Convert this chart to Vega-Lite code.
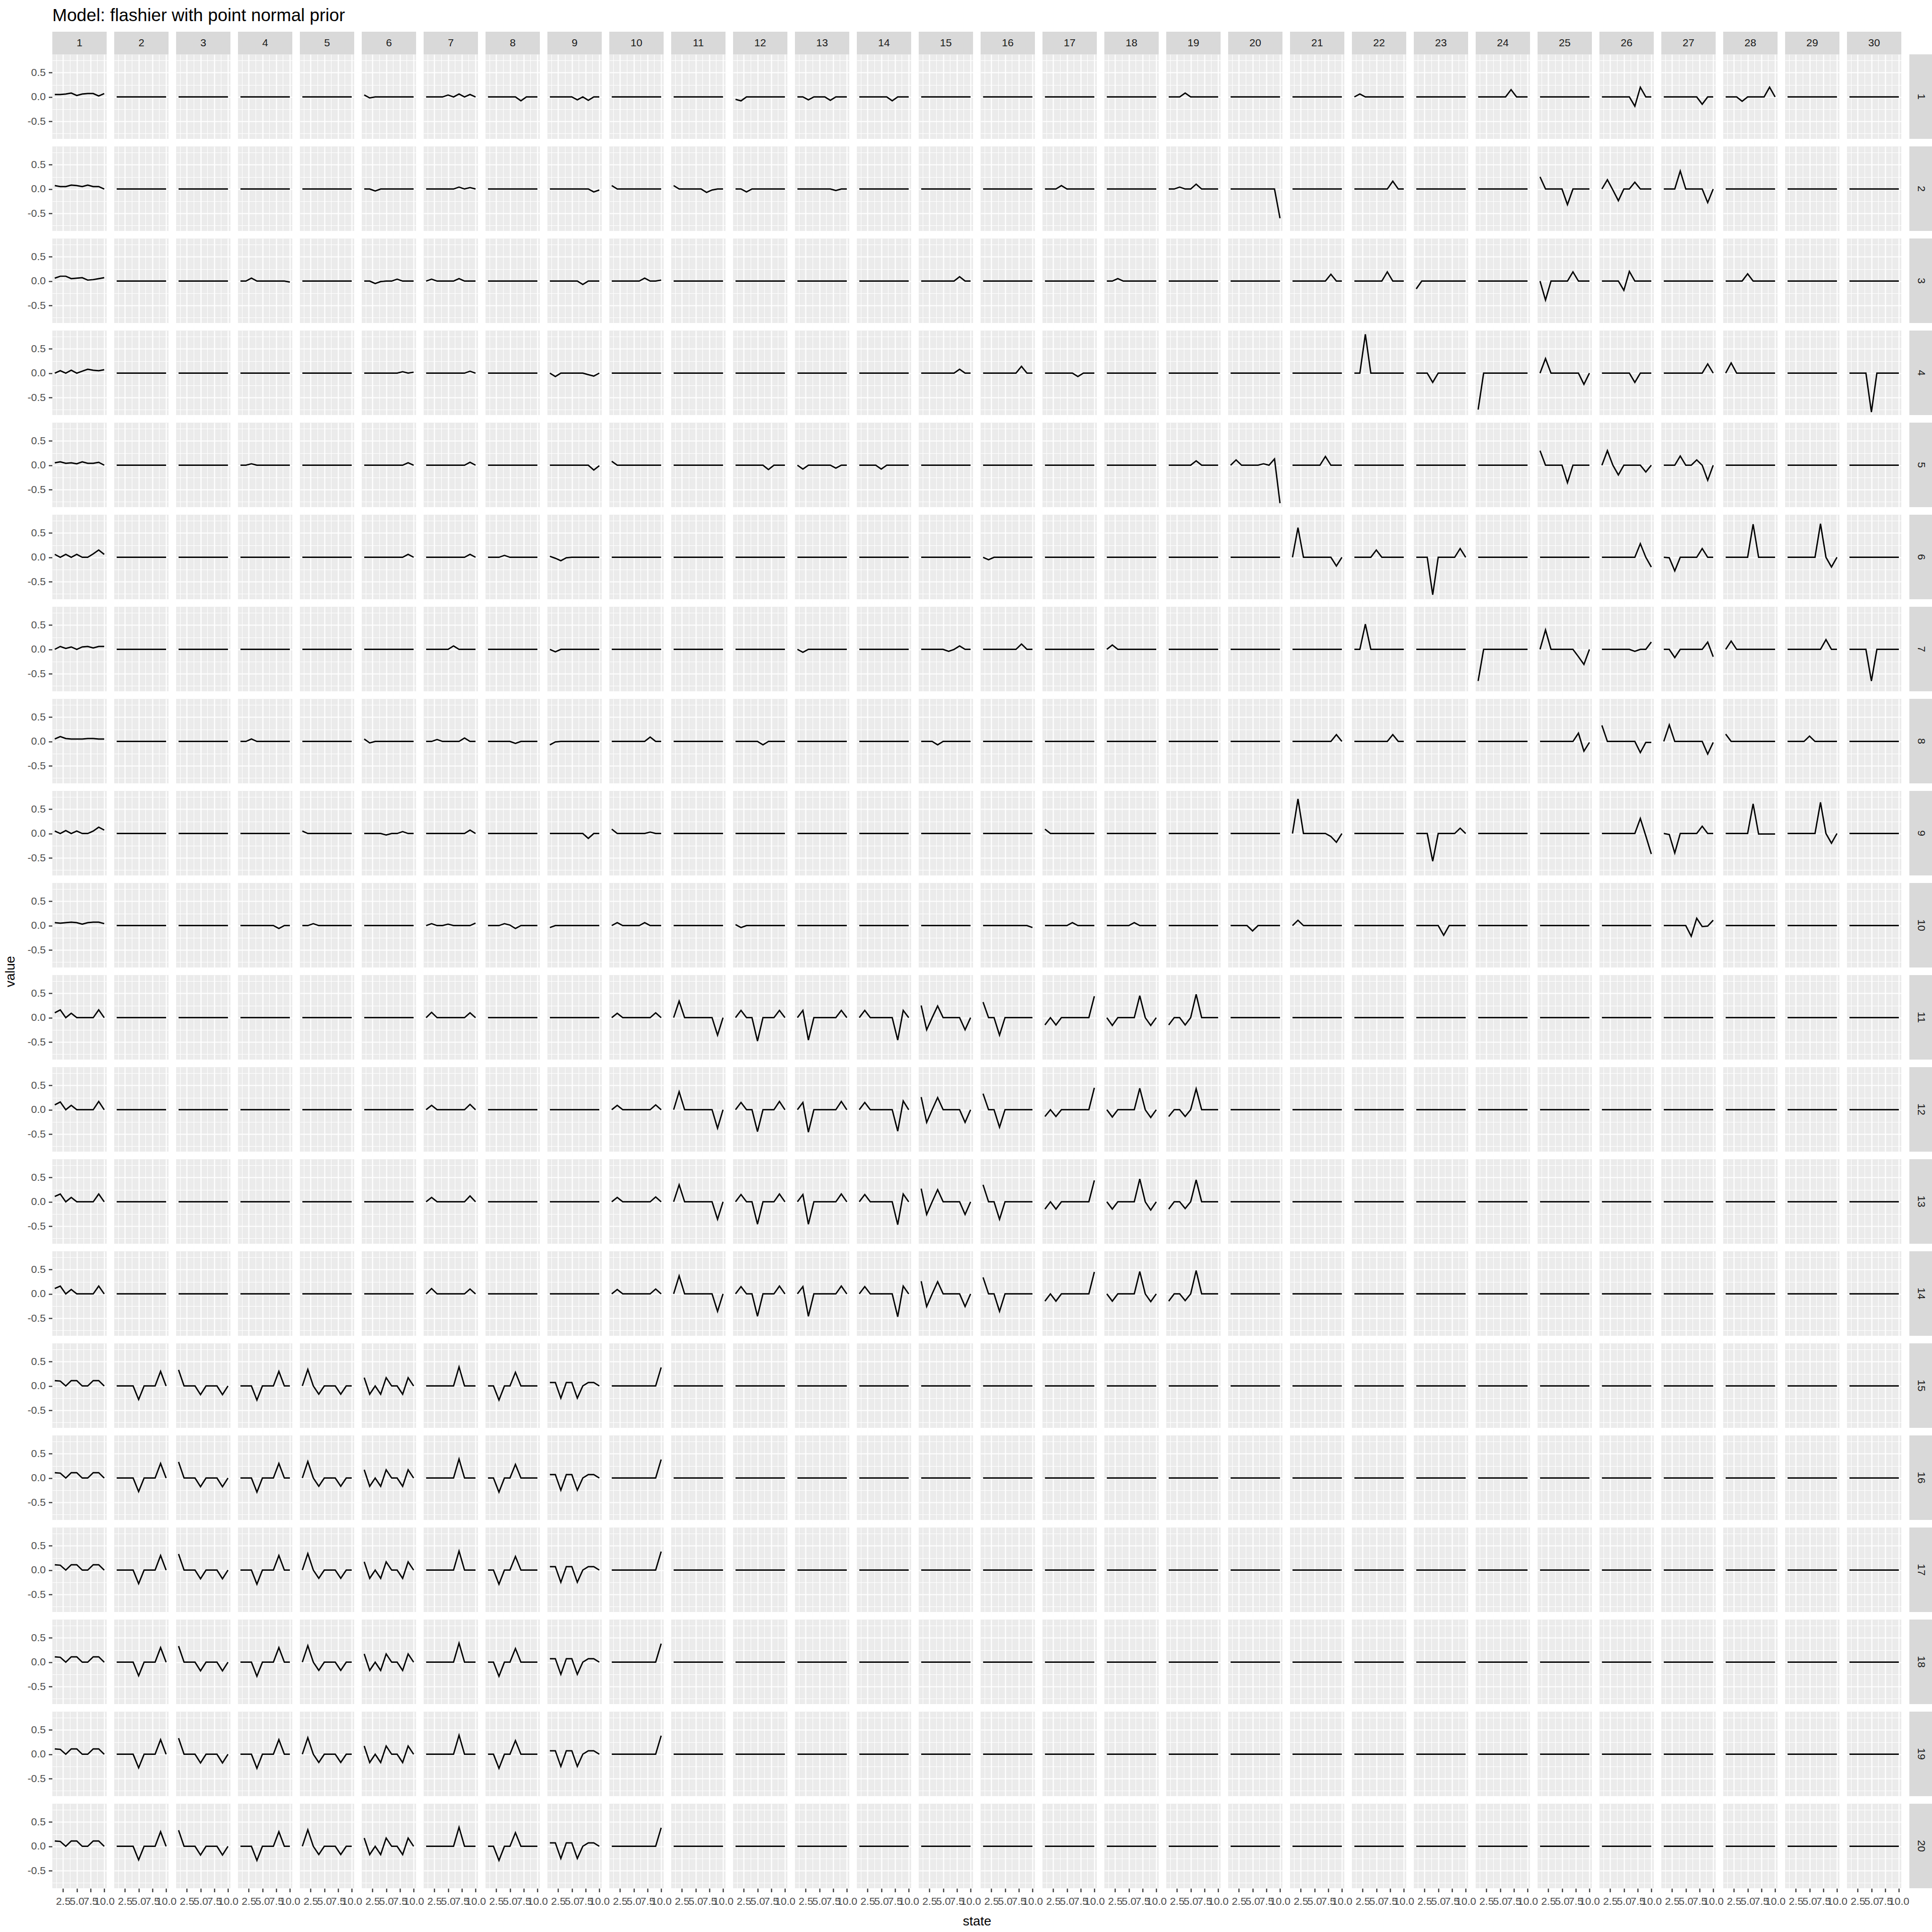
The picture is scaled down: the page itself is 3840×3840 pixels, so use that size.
{
"$schema":"https://vega.github.io/schema/vega-lite/v6.json",
"background":"#FFFFFF",
"padding":{"left":7,"top":14,"right":15,"bottom":10},
"title":{"text":"Model: flashier with point normal prior","anchor":"start","frame":"group","dx":84,"offset":14,"fontSize":35,"fontWeight":"normal","font":"Liberation Sans","color":"#000000"},
"config":{"view":{"stroke":null},"font":"Liberation Sans"},
"spacing":20,
"hconcat":[
{"width":1,"height":3736,"view":{"fill":"transparent","stroke":null},
 "data":{"values":[{"t":"value"}]},
 "mark":{"type":"text","angle":270,"fontSize":26,"font":"Liberation Sans","color":"#000000","baseline":"middle","align":"center"},
 "encoding":{"text":{"field":"t","type":"nominal"}}},
{"spacing":0,"vconcat":[
{"data":{"values":[{"c":1},{"c":2},{"c":3},{"c":4},{"c":5},{"c":6},{"c":7},{"c":8},{"c":9},{"c":10},{"c":11},{"c":12},{"c":13},{"c":14},{"c":15},{"c":16},{"c":17},{"c":18},{"c":19},{"c":20},{"c":21},{"c":22},{"c":23},{"c":24},{"c":25},{"c":26},{"c":27},{"c":28},{"c":29},{"c":30}]},
 "facet":{"column":{"field":"c","type":"ordinal","header":{"labels":false,"title":null}}},
 "spacing":15,"bounds":"flush",
 "spec":{"width":108,"height":45,"view":{"fill":"#D9D9D9","stroke":null},
  "mark":{"type":"text","fontSize":21,"color":"#1A1A1A","font":"Liberation Sans","baseline":"middle","align":"center"},
  "encoding":{"text":{"field":"c","type":"nominal"},
   "y":{"datum":0,"type":"quantitative","scale":{"domain":[-1,1],"nice":false},"axis":{"values":[0],"labelExpr":"'-0.5'","labelColor":"transparent","tickColor":"transparent","tickSize":7.5,"labelPadding":6,"labelFontSize":21,"labelFont":"Liberation Sans","grid":false,"domain":false,"title":null}}}}},
{"spacing":-31,"hconcat":[
{"data":{"values":[
{"r":1,"c":1,"s":1,"v":0.05},{"r":1,"c":1,"s":2,"v":0.05},{"r":1,"c":1,"s":3,"v":0.06},{"r":1,"c":1,"s":4,"v":0.08},{"r":1,"c":1,"s":5,"v":0.03},{"r":1,"c":1,"s":6,"v":0.06},{"r":1,"c":1,"s":7,"v":0.07},{"r":1,"c":1,"s":8,"v":0.07},{"r":1,"c":1,"s":9,"v":0.02},{"r":1,"c":1,"s":10,"v":0.07},
{"r":1,"c":6,"s":1,"v":0.04},{"r":1,"c":6,"s":2,"v":-0.02},{"r":1,"c":6,"s":3,"v":0},{"r":1,"c":6,"s":10,"v":0},
{"r":1,"c":7,"s":1,"v":0},{"r":1,"c":7,"s":4,"v":0},{"r":1,"c":7,"s":5,"v":0.04},{"r":1,"c":7,"s":6,"v":0},{"r":1,"c":7,"s":7,"v":0.06},{"r":1,"c":7,"s":8,"v":0},{"r":1,"c":7,"s":9,"v":0.05},{"r":1,"c":7,"s":10,"v":0},
{"r":1,"c":8,"s":1,"v":0},{"r":1,"c":8,"s":6,"v":0},{"r":1,"c":8,"s":7,"v":-0.08},{"r":1,"c":8,"s":8,"v":0},{"r":1,"c":8,"s":10,"v":0},
{"r":1,"c":9,"s":1,"v":0},{"r":1,"c":9,"s":5,"v":0},{"r":1,"c":9,"s":6,"v":-0.06},{"r":1,"c":9,"s":7,"v":0},{"r":1,"c":9,"s":8,"v":-0.07},{"r":1,"c":9,"s":9,"v":0},{"r":1,"c":9,"s":10,"v":0},
{"r":1,"c":12,"s":1,"v":-0.05},{"r":1,"c":12,"s":2,"v":-0.08},{"r":1,"c":12,"s":3,"v":0},{"r":1,"c":12,"s":10,"v":0},
{"r":1,"c":13,"s":1,"v":0},{"r":1,"c":13,"s":2,"v":0},{"r":1,"c":13,"s":3,"v":-0.06},{"r":1,"c":13,"s":4,"v":0},{"r":1,"c":13,"s":6,"v":0},{"r":1,"c":13,"s":7,"v":-0.07},{"r":1,"c":13,"s":8,"v":0},{"r":1,"c":13,"s":10,"v":0},
{"r":1,"c":14,"s":1,"v":0},{"r":1,"c":14,"s":6,"v":0},{"r":1,"c":14,"s":7,"v":-0.08},{"r":1,"c":14,"s":8,"v":0},{"r":1,"c":14,"s":10,"v":0},
{"r":1,"c":19,"s":1,"v":0},{"r":1,"c":19,"s":3,"v":0},{"r":1,"c":19,"s":4,"v":0.08},{"r":1,"c":19,"s":5,"v":0},{"r":1,"c":19,"s":10,"v":0},
{"r":1,"c":22,"s":1,"v":0},{"r":1,"c":22,"s":2,"v":0.06},{"r":1,"c":22,"s":3,"v":0},{"r":1,"c":22,"s":10,"v":0},
{"r":1,"c":24,"s":1,"v":0},{"r":1,"c":24,"s":6,"v":0},{"r":1,"c":24,"s":7,"v":0.15},{"r":1,"c":24,"s":8,"v":0},{"r":1,"c":24,"s":10,"v":0},
{"r":1,"c":26,"s":1,"v":0},{"r":1,"c":26,"s":6,"v":0},{"r":1,"c":26,"s":7,"v":-0.19},{"r":1,"c":26,"s":8,"v":0.2},{"r":1,"c":26,"s":9,"v":0},{"r":1,"c":26,"s":10,"v":0},
{"r":1,"c":27,"s":1,"v":0},{"r":1,"c":27,"s":7,"v":0},{"r":1,"c":27,"s":8,"v":-0.15},{"r":1,"c":27,"s":9,"v":0},{"r":1,"c":27,"s":10,"v":0},
{"r":1,"c":28,"s":1,"v":0},{"r":1,"c":28,"s":3,"v":0},{"r":1,"c":28,"s":4,"v":-0.09},{"r":1,"c":28,"s":5,"v":0},{"r":1,"c":28,"s":8,"v":0},{"r":1,"c":28,"s":9,"v":0.2},{"r":1,"c":28,"s":10,"v":0},
{"r":2,"c":1,"s":1,"v":0.07},{"r":2,"c":1,"s":2,"v":0.05},{"r":2,"c":1,"s":3,"v":0.05},{"r":2,"c":1,"s":4,"v":0.08},{"r":2,"c":1,"s":5,"v":0.07},{"r":2,"c":1,"s":6,"v":0.05},{"r":2,"c":1,"s":7,"v":0.08},{"r":2,"c":1,"s":8,"v":0.05},{"r":2,"c":1,"s":9,"v":0.05},{"r":2,"c":1,"s":10,"v":0},
{"r":2,"c":6,"s":1,"v":0},{"r":2,"c":6,"s":2,"v":0},{"r":2,"c":6,"s":3,"v":-0.04},{"r":2,"c":6,"s":4,"v":0},{"r":2,"c":6,"s":10,"v":0},
{"r":2,"c":7,"s":1,"v":0},{"r":2,"c":7,"s":6,"v":0},{"r":2,"c":7,"s":7,"v":0.04},{"r":2,"c":7,"s":8,"v":0},{"r":2,"c":7,"s":9,"v":0.03},{"r":2,"c":7,"s":10,"v":0},
{"r":2,"c":9,"s":1,"v":0},{"r":2,"c":9,"s":8,"v":0},{"r":2,"c":9,"s":9,"v":-0.06},{"r":2,"c":9,"s":10,"v":-0.02},
{"r":2,"c":10,"s":1,"v":0.07},{"r":2,"c":10,"s":2,"v":0},{"r":2,"c":10,"s":10,"v":0},
{"r":2,"c":11,"s":1,"v":0.07},{"r":2,"c":11,"s":2,"v":0},{"r":2,"c":11,"s":6,"v":0},{"r":2,"c":11,"s":7,"v":-0.07},{"r":2,"c":11,"s":8,"v":-0.02},{"r":2,"c":11,"s":9,"v":0},{"r":2,"c":11,"s":10,"v":0},
{"r":2,"c":12,"s":1,"v":0},{"r":2,"c":12,"s":2,"v":0},{"r":2,"c":12,"s":3,"v":-0.06},{"r":2,"c":12,"s":4,"v":0},{"r":2,"c":12,"s":10,"v":0},
{"r":2,"c":13,"s":1,"v":0},{"r":2,"c":13,"s":7,"v":0},{"r":2,"c":13,"s":8,"v":-0.03},{"r":2,"c":13,"s":9,"v":0},{"r":2,"c":13,"s":10,"v":0},
{"r":2,"c":17,"s":1,"v":0},{"r":2,"c":17,"s":3,"v":0},{"r":2,"c":17,"s":4,"v":0.07},{"r":2,"c":17,"s":5,"v":0},{"r":2,"c":17,"s":10,"v":0},
{"r":2,"c":19,"s":1,"v":0},{"r":2,"c":19,"s":2,"v":0},{"r":2,"c":19,"s":3,"v":0.04},{"r":2,"c":19,"s":4,"v":0},{"r":2,"c":19,"s":5,"v":0},{"r":2,"c":19,"s":6,"v":0.1},{"r":2,"c":19,"s":7,"v":0},{"r":2,"c":19,"s":10,"v":0},
{"r":2,"c":20,"s":1,"v":0},{"r":2,"c":20,"s":9,"v":0},{"r":2,"c":20,"s":10,"v":-0.6},
{"r":2,"c":22,"s":1,"v":0},{"r":2,"c":22,"s":7,"v":0},{"r":2,"c":22,"s":8,"v":0.16},{"r":2,"c":22,"s":9,"v":0},{"r":2,"c":22,"s":10,"v":0},
{"r":2,"c":25,"s":1,"v":0.25},{"r":2,"c":25,"s":2,"v":0},{"r":2,"c":25,"s":5,"v":0},{"r":2,"c":25,"s":6,"v":-0.32},{"r":2,"c":25,"s":7,"v":0},{"r":2,"c":25,"s":10,"v":0},
{"r":2,"c":26,"s":1,"v":0},{"r":2,"c":26,"s":2,"v":0.19},{"r":2,"c":26,"s":3,"v":-0.02},{"r":2,"c":26,"s":4,"v":-0.24},{"r":2,"c":26,"s":5,"v":0},{"r":2,"c":26,"s":6,"v":0},{"r":2,"c":26,"s":7,"v":0.14},{"r":2,"c":26,"s":8,"v":0},{"r":2,"c":26,"s":10,"v":0},
{"r":2,"c":27,"s":1,"v":0},{"r":2,"c":27,"s":3,"v":0},{"r":2,"c":27,"s":4,"v":0.37},{"r":2,"c":27,"s":5,"v":0},{"r":2,"c":27,"s":8,"v":0},{"r":2,"c":27,"s":9,"v":-0.28},{"r":2,"c":27,"s":10,"v":0},
{"r":3,"c":1,"s":1,"v":0.06},{"r":3,"c":1,"s":2,"v":0.1},{"r":3,"c":1,"s":3,"v":0.1},{"r":3,"c":1,"s":4,"v":0.05},{"r":3,"c":1,"s":5,"v":0.06},{"r":3,"c":1,"s":6,"v":0.07},{"r":3,"c":1,"s":7,"v":0.02},{"r":3,"c":1,"s":8,"v":0.03},{"r":3,"c":1,"s":9,"v":0.05},{"r":3,"c":1,"s":10,"v":0.07},
{"r":3,"c":4,"s":1,"v":0},{"r":3,"c":4,"s":2,"v":0},{"r":3,"c":4,"s":3,"v":0.06},{"r":3,"c":4,"s":4,"v":0},{"r":3,"c":4,"s":9,"v":0},{"r":3,"c":4,"s":10,"v":-0.02},
{"r":3,"c":6,"s":1,"v":0},{"r":3,"c":6,"s":2,"v":0},{"r":3,"c":6,"s":3,"v":-0.05},{"r":3,"c":6,"s":4,"v":-0.01},{"r":3,"c":6,"s":5,"v":0},{"r":3,"c":6,"s":6,"v":0},{"r":3,"c":6,"s":7,"v":0.04},{"r":3,"c":6,"s":8,"v":0},{"r":3,"c":6,"s":10,"v":0},
{"r":3,"c":7,"s":1,"v":0},{"r":3,"c":7,"s":2,"v":0.04},{"r":3,"c":7,"s":3,"v":0},{"r":3,"c":7,"s":6,"v":0},{"r":3,"c":7,"s":7,"v":0.05},{"r":3,"c":7,"s":8,"v":0},{"r":3,"c":7,"s":10,"v":0},
{"r":3,"c":9,"s":1,"v":0},{"r":3,"c":9,"s":6,"v":0},{"r":3,"c":9,"s":7,"v":-0.07},{"r":3,"c":9,"s":8,"v":0},{"r":3,"c":9,"s":10,"v":0},
{"r":3,"c":10,"s":1,"v":0},{"r":3,"c":10,"s":6,"v":0},{"r":3,"c":10,"s":7,"v":0.06},{"r":3,"c":10,"s":8,"v":0},{"r":3,"c":10,"s":9,"v":0},{"r":3,"c":10,"s":10,"v":0.02},
{"r":3,"c":15,"s":1,"v":0},{"r":3,"c":15,"s":7,"v":0},{"r":3,"c":15,"s":8,"v":0.09},{"r":3,"c":15,"s":9,"v":0},{"r":3,"c":15,"s":10,"v":0},
{"r":3,"c":18,"s":1,"v":0},{"r":3,"c":18,"s":2,"v":0},{"r":3,"c":18,"s":3,"v":0.05},{"r":3,"c":18,"s":4,"v":0},{"r":3,"c":18,"s":10,"v":0},
{"r":3,"c":21,"s":1,"v":0},{"r":3,"c":21,"s":7,"v":0},{"r":3,"c":21,"s":8,"v":0.14},{"r":3,"c":21,"s":9,"v":0},{"r":3,"c":21,"s":10,"v":0},
{"r":3,"c":22,"s":1,"v":0},{"r":3,"c":22,"s":6,"v":0},{"r":3,"c":22,"s":7,"v":0.19},{"r":3,"c":22,"s":8,"v":0},{"r":3,"c":22,"s":10,"v":0},
{"r":3,"c":23,"s":1,"v":-0.16},{"r":3,"c":23,"s":2,"v":0},{"r":3,"c":23,"s":10,"v":0},
{"r":3,"c":25,"s":1,"v":0},{"r":3,"c":25,"s":2,"v":-0.39},{"r":3,"c":25,"s":3,"v":0},{"r":3,"c":25,"s":6,"v":0},{"r":3,"c":25,"s":7,"v":0.19},{"r":3,"c":25,"s":8,"v":0},{"r":3,"c":25,"s":10,"v":0},
{"r":3,"c":26,"s":1,"v":0},{"r":3,"c":26,"s":4,"v":0},{"r":3,"c":26,"s":5,"v":-0.19},{"r":3,"c":26,"s":6,"v":0.2},{"r":3,"c":26,"s":7,"v":0},{"r":3,"c":26,"s":10,"v":0},
{"r":3,"c":28,"s":1,"v":0},{"r":3,"c":28,"s":4,"v":0},{"r":3,"c":28,"s":5,"v":0.15},{"r":3,"c":28,"s":6,"v":0},{"r":3,"c":28,"s":10,"v":0},
{"r":4,"c":1,"s":1,"v":0},{"r":4,"c":1,"s":2,"v":0.05},{"r":4,"c":1,"s":3,"v":0},{"r":4,"c":1,"s":4,"v":0.06},{"r":4,"c":1,"s":5,"v":0},{"r":4,"c":1,"s":6,"v":0.04},{"r":4,"c":1,"s":7,"v":0.08},{"r":4,"c":1,"s":8,"v":0.06},{"r":4,"c":1,"s":9,"v":0.05},{"r":4,"c":1,"s":10,"v":0.07},
{"r":4,"c":6,"s":1,"v":0},{"r":4,"c":6,"s":7,"v":0},{"r":4,"c":6,"s":8,"v":0.03},{"r":4,"c":6,"s":9,"v":0},{"r":4,"c":6,"s":10,"v":0.02},
{"r":4,"c":7,"s":1,"v":0},{"r":4,"c":7,"s":8,"v":0},{"r":4,"c":7,"s":9,"v":0.04},{"r":4,"c":7,"s":10,"v":0},
{"r":4,"c":9,"s":1,"v":0},{"r":4,"c":9,"s":2,"v":-0.07},{"r":4,"c":9,"s":3,"v":0},{"r":4,"c":9,"s":7,"v":0},{"r":4,"c":9,"s":8,"v":-0.03},{"r":4,"c":9,"s":9,"v":-0.06},{"r":4,"c":9,"s":10,"v":0},
{"r":4,"c":15,"s":1,"v":0},{"r":4,"c":15,"s":7,"v":0},{"r":4,"c":15,"s":8,"v":0.08},{"r":4,"c":15,"s":9,"v":0},{"r":4,"c":15,"s":10,"v":0},
{"r":4,"c":16,"s":1,"v":0},{"r":4,"c":16,"s":7,"v":0},{"r":4,"c":16,"s":8,"v":0.14},{"r":4,"c":16,"s":9,"v":0},{"r":4,"c":16,"s":10,"v":0},
{"r":4,"c":17,"s":1,"v":0},{"r":4,"c":17,"s":6,"v":0},{"r":4,"c":17,"s":7,"v":-0.07},{"r":4,"c":17,"s":8,"v":0},{"r":4,"c":17,"s":10,"v":0},
{"r":4,"c":22,"s":1,"v":0},{"r":4,"c":22,"s":2,"v":0},{"r":4,"c":22,"s":3,"v":0.8},{"r":4,"c":22,"s":4,"v":0},{"r":4,"c":22,"s":10,"v":0},
{"r":4,"c":23,"s":1,"v":0},{"r":4,"c":23,"s":3,"v":0},{"r":4,"c":23,"s":4,"v":-0.19},{"r":4,"c":23,"s":5,"v":0},{"r":4,"c":23,"s":10,"v":0},
{"r":4,"c":24,"s":1,"v":-0.75},{"r":4,"c":24,"s":2,"v":0},{"r":4,"c":24,"s":10,"v":0},
{"r":4,"c":25,"s":1,"v":0},{"r":4,"c":25,"s":2,"v":0.3},{"r":4,"c":25,"s":3,"v":0},{"r":4,"c":25,"s":8,"v":0},{"r":4,"c":25,"s":9,"v":-0.23},{"r":4,"c":25,"s":10,"v":0},
{"r":4,"c":26,"s":1,"v":0},{"r":4,"c":26,"s":6,"v":0},{"r":4,"c":26,"s":7,"v":-0.19},{"r":4,"c":26,"s":8,"v":0},{"r":4,"c":26,"s":10,"v":0},
{"r":4,"c":27,"s":1,"v":0},{"r":4,"c":27,"s":8,"v":0},{"r":4,"c":27,"s":9,"v":0.19},{"r":4,"c":27,"s":10,"v":0},
{"r":4,"c":28,"s":1,"v":0},{"r":4,"c":28,"s":2,"v":0.21},{"r":4,"c":28,"s":3,"v":0},{"r":4,"c":28,"s":10,"v":0},
{"r":4,"c":30,"s":1,"v":0},{"r":4,"c":30,"s":4,"v":0},{"r":4,"c":30,"s":5,"v":-0.8},{"r":4,"c":30,"s":6,"v":0},{"r":4,"c":30,"s":10,"v":0},
{"r":5,"c":1,"s":1,"v":0.05},{"r":5,"c":1,"s":2,"v":0.07},{"r":5,"c":1,"s":3,"v":0.04},{"r":5,"c":1,"s":4,"v":0.05},{"r":5,"c":1,"s":5,"v":0.03},{"r":5,"c":1,"s":6,"v":0.07},{"r":5,"c":1,"s":7,"v":0.04},{"r":5,"c":1,"s":8,"v":0.04},{"r":5,"c":1,"s":9,"v":0.06},{"r":5,"c":1,"s":10,"v":0},
{"r":5,"c":4,"s":1,"v":0},{"r":5,"c":4,"s":2,"v":0},{"r":5,"c":4,"s":3,"v":0.03},{"r":5,"c":4,"s":4,"v":0},{"r":5,"c":4,"s":10,"v":0},
{"r":5,"c":6,"s":1,"v":0},{"r":5,"c":6,"s":8,"v":0},{"r":5,"c":6,"s":9,"v":0.05},{"r":5,"c":6,"s":10,"v":0},
{"r":5,"c":7,"s":1,"v":0},{"r":5,"c":7,"s":8,"v":0},{"r":5,"c":7,"s":9,"v":0.06},{"r":5,"c":7,"s":10,"v":0},
{"r":5,"c":9,"s":1,"v":0},{"r":5,"c":9,"s":8,"v":0},{"r":5,"c":9,"s":9,"v":-0.1},{"r":5,"c":9,"s":10,"v":-0.01},
{"r":5,"c":10,"s":1,"v":0.08},{"r":5,"c":10,"s":2,"v":0},{"r":5,"c":10,"s":10,"v":0},
{"r":5,"c":12,"s":1,"v":0},{"r":5,"c":12,"s":6,"v":0},{"r":5,"c":12,"s":7,"v":-0.09},{"r":5,"c":12,"s":8,"v":0},{"r":5,"c":12,"s":10,"v":0},
{"r":5,"c":13,"s":1,"v":0},{"r":5,"c":13,"s":2,"v":-0.08},{"r":5,"c":13,"s":3,"v":0},{"r":5,"c":13,"s":7,"v":0},{"r":5,"c":13,"s":8,"v":-0.06},{"r":5,"c":13,"s":9,"v":0},{"r":5,"c":13,"s":10,"v":0},
{"r":5,"c":14,"s":1,"v":0},{"r":5,"c":14,"s":4,"v":0},{"r":5,"c":14,"s":5,"v":-0.08},{"r":5,"c":14,"s":6,"v":0},{"r":5,"c":14,"s":10,"v":0},
{"r":5,"c":19,"s":1,"v":0},{"r":5,"c":19,"s":5,"v":0},{"r":5,"c":19,"s":6,"v":0.09},{"r":5,"c":19,"s":7,"v":0},{"r":5,"c":19,"s":10,"v":0},
{"r":5,"c":20,"s":1,"v":0},{"r":5,"c":20,"s":2,"v":0.11},{"r":5,"c":20,"s":3,"v":0},{"r":5,"c":20,"s":6,"v":0},{"r":5,"c":20,"s":7,"v":0.03},{"r":5,"c":20,"s":8,"v":0},{"r":5,"c":20,"s":9,"v":0.13},{"r":5,"c":20,"s":10,"v":-0.78},
{"r":5,"c":21,"s":1,"v":0},{"r":5,"c":21,"s":6,"v":0},{"r":5,"c":21,"s":7,"v":0.18},{"r":5,"c":21,"s":8,"v":0},{"r":5,"c":21,"s":10,"v":0},
{"r":5,"c":25,"s":1,"v":0.3},{"r":5,"c":25,"s":2,"v":0},{"r":5,"c":25,"s":5,"v":0},{"r":5,"c":25,"s":6,"v":-0.36},{"r":5,"c":25,"s":7,"v":0},{"r":5,"c":25,"s":10,"v":0},
{"r":5,"c":26,"s":1,"v":0},{"r":5,"c":26,"s":2,"v":0.3},{"r":5,"c":26,"s":3,"v":0},{"r":5,"c":26,"s":4,"v":-0.2},{"r":5,"c":26,"s":5,"v":0},{"r":5,"c":26,"s":8,"v":0},{"r":5,"c":26,"s":9,"v":-0.14},{"r":5,"c":26,"s":10,"v":0},
{"r":5,"c":27,"s":1,"v":0},{"r":5,"c":27,"s":3,"v":0},{"r":5,"c":27,"s":4,"v":0.19},{"r":5,"c":27,"s":5,"v":0},{"r":5,"c":27,"s":6,"v":0},{"r":5,"c":27,"s":7,"v":0.11},{"r":5,"c":27,"s":8,"v":0},{"r":5,"c":27,"s":9,"v":-0.31},{"r":5,"c":27,"s":10,"v":0},
{"r":6,"c":1,"s":1,"v":0.06},{"r":6,"c":1,"s":2,"v":0},{"r":6,"c":1,"s":3,"v":0.06},{"r":6,"c":1,"s":4,"v":0},{"r":6,"c":1,"s":5,"v":0.06},{"r":6,"c":1,"s":6,"v":0},{"r":6,"c":1,"s":7,"v":0},{"r":6,"c":1,"s":8,"v":0.07},{"r":6,"c":1,"s":9,"v":0.15},{"r":6,"c":1,"s":10,"v":0.06},
{"r":6,"c":6,"s":1,"v":0},{"r":6,"c":6,"s":8,"v":0},{"r":6,"c":6,"s":9,"v":0.06},{"r":6,"c":6,"s":10,"v":0},
{"r":6,"c":7,"s":1,"v":0},{"r":6,"c":7,"s":8,"v":0},{"r":6,"c":7,"s":9,"v":0.06},{"r":6,"c":7,"s":10,"v":0},
{"r":6,"c":8,"s":1,"v":0},{"r":6,"c":8,"s":3,"v":0},{"r":6,"c":8,"s":4,"v":0.04},{"r":6,"c":8,"s":5,"v":0},{"r":6,"c":8,"s":10,"v":0},
{"r":6,"c":9,"s":1,"v":0.02},{"r":6,"c":9,"s":2,"v":-0.02},{"r":6,"c":9,"s":3,"v":-0.07},{"r":6,"c":9,"s":4,"v":-0.01},{"r":6,"c":9,"s":5,"v":0},{"r":6,"c":9,"s":10,"v":0},
{"r":6,"c":16,"s":1,"v":0},{"r":6,"c":16,"s":2,"v":-0.05},{"r":6,"c":16,"s":3,"v":0},{"r":6,"c":16,"s":10,"v":0},
{"r":6,"c":21,"s":1,"v":0},{"r":6,"c":21,"s":2,"v":0.61},{"r":6,"c":21,"s":3,"v":0},{"r":6,"c":21,"s":8,"v":0},{"r":6,"c":21,"s":9,"v":-0.18},{"r":6,"c":21,"s":10,"v":0},
{"r":6,"c":22,"s":1,"v":0},{"r":6,"c":22,"s":4,"v":0},{"r":6,"c":22,"s":5,"v":0.15},{"r":6,"c":22,"s":6,"v":0},{"r":6,"c":22,"s":10,"v":0},
{"r":6,"c":23,"s":1,"v":0},{"r":6,"c":23,"s":3,"v":0},{"r":6,"c":23,"s":4,"v":-0.77},{"r":6,"c":23,"s":5,"v":0},{"r":6,"c":23,"s":8,"v":0},{"r":6,"c":23,"s":9,"v":0.18},{"r":6,"c":23,"s":10,"v":0},
{"r":6,"c":26,"s":1,"v":0},{"r":6,"c":26,"s":7,"v":0},{"r":6,"c":26,"s":8,"v":0.28},{"r":6,"c":26,"s":9,"v":0},{"r":6,"c":26,"s":10,"v":-0.2},
{"r":6,"c":27,"s":1,"v":0},{"r":6,"c":27,"s":2,"v":-0.01},{"r":6,"c":27,"s":3,"v":-0.28},{"r":6,"c":27,"s":4,"v":0},{"r":6,"c":27,"s":7,"v":0},{"r":6,"c":27,"s":8,"v":0.18},{"r":6,"c":27,"s":9,"v":0},{"r":6,"c":27,"s":10,"v":0},
{"r":6,"c":28,"s":1,"v":0},{"r":6,"c":28,"s":5,"v":0},{"r":6,"c":28,"s":6,"v":0.68},{"r":6,"c":28,"s":7,"v":0},{"r":6,"c":28,"s":10,"v":0},
{"r":6,"c":29,"s":1,"v":0},{"r":6,"c":29,"s":6,"v":0},{"r":6,"c":29,"s":7,"v":0.69},{"r":6,"c":29,"s":8,"v":0},{"r":6,"c":29,"s":9,"v":-0.2},{"r":6,"c":29,"s":10,"v":0},
{"r":7,"c":1,"s":1,"v":0},{"r":7,"c":1,"s":2,"v":0.06},{"r":7,"c":1,"s":3,"v":0.02},{"r":7,"c":1,"s":4,"v":0.05},{"r":7,"c":1,"s":5,"v":0},{"r":7,"c":1,"s":6,"v":0.05},{"r":7,"c":1,"s":7,"v":0.06},{"r":7,"c":1,"s":8,"v":0.03},{"r":7,"c":1,"s":9,"v":0.06},{"r":7,"c":1,"s":10,"v":0.06},
{"r":7,"c":7,"s":1,"v":0},{"r":7,"c":7,"s":5,"v":0},{"r":7,"c":7,"s":6,"v":0.07},{"r":7,"c":7,"s":7,"v":0},{"r":7,"c":7,"s":10,"v":0},
{"r":7,"c":9,"s":1,"v":0},{"r":7,"c":9,"s":2,"v":-0.05},{"r":7,"c":9,"s":3,"v":0},{"r":7,"c":9,"s":10,"v":0},
{"r":7,"c":13,"s":1,"v":0},{"r":7,"c":13,"s":2,"v":-0.06},{"r":7,"c":13,"s":3,"v":0},{"r":7,"c":13,"s":10,"v":0},
{"r":7,"c":15,"s":1,"v":0},{"r":7,"c":15,"s":5,"v":0},{"r":7,"c":15,"s":6,"v":-0.04},{"r":7,"c":15,"s":7,"v":0},{"r":7,"c":15,"s":8,"v":0.07},{"r":7,"c":15,"s":9,"v":0},{"r":7,"c":15,"s":10,"v":0},
{"r":7,"c":16,"s":1,"v":0},{"r":7,"c":16,"s":7,"v":0},{"r":7,"c":16,"s":8,"v":0.11},{"r":7,"c":16,"s":9,"v":0},{"r":7,"c":16,"s":10,"v":0},
{"r":7,"c":18,"s":1,"v":0},{"r":7,"c":18,"s":2,"v":0.09},{"r":7,"c":18,"s":3,"v":0},{"r":7,"c":18,"s":10,"v":0},
{"r":7,"c":22,"s":1,"v":0},{"r":7,"c":22,"s":2,"v":0},{"r":7,"c":22,"s":3,"v":0.52},{"r":7,"c":22,"s":4,"v":0},{"r":7,"c":22,"s":10,"v":0},
{"r":7,"c":24,"s":1,"v":-0.65},{"r":7,"c":24,"s":2,"v":0},{"r":7,"c":24,"s":10,"v":0},
{"r":7,"c":25,"s":1,"v":0},{"r":7,"c":25,"s":2,"v":0.4},{"r":7,"c":25,"s":3,"v":0},{"r":7,"c":25,"s":7,"v":0},{"r":7,"c":25,"s":8,"v":-0.15},{"r":7,"c":25,"s":9,"v":-0.31},{"r":7,"c":25,"s":10,"v":0},
{"r":7,"c":26,"s":1,"v":0},{"r":7,"c":26,"s":6,"v":0},{"r":7,"c":26,"s":7,"v":-0.04},{"r":7,"c":26,"s":8,"v":0},{"r":7,"c":26,"s":9,"v":0},{"r":7,"c":26,"s":10,"v":0.15},
{"r":7,"c":27,"s":1,"v":0},{"r":7,"c":27,"s":2,"v":0},{"r":7,"c":27,"s":3,"v":-0.17},{"r":7,"c":27,"s":4,"v":0},{"r":7,"c":27,"s":8,"v":0},{"r":7,"c":27,"s":9,"v":0.15},{"r":7,"c":27,"s":10,"v":-0.15},
{"r":7,"c":28,"s":1,"v":0},{"r":7,"c":28,"s":2,"v":0.17},{"r":7,"c":28,"s":3,"v":0},{"r":7,"c":28,"s":10,"v":0},
{"r":7,"c":29,"s":1,"v":0},{"r":7,"c":29,"s":7,"v":0},{"r":7,"c":29,"s":8,"v":0.2},{"r":7,"c":29,"s":9,"v":0},{"r":7,"c":29,"s":10,"v":0},
{"r":7,"c":30,"s":1,"v":0},{"r":7,"c":30,"s":4,"v":0},{"r":7,"c":30,"s":5,"v":-0.65},{"r":7,"c":30,"s":6,"v":0},{"r":7,"c":30,"s":10,"v":0},
{"r":8,"c":1,"s":1,"v":0.05},{"r":8,"c":1,"s":2,"v":0.1},{"r":8,"c":1,"s":3,"v":0.06},{"r":8,"c":1,"s":4,"v":0.05},{"r":8,"c":1,"s":5,"v":0.05},{"r":8,"c":1,"s":6,"v":0.05},{"r":8,"c":1,"s":7,"v":0.06},{"r":8,"c":1,"s":8,"v":0.06},{"r":8,"c":1,"s":9,"v":0.05},{"r":8,"c":1,"s":10,"v":0.05},
{"r":8,"c":4,"s":1,"v":0},{"r":8,"c":4,"s":2,"v":0},{"r":8,"c":4,"s":3,"v":0.05},{"r":8,"c":4,"s":4,"v":0},{"r":8,"c":4,"s":10,"v":0},
{"r":8,"c":6,"s":1,"v":0.05},{"r":8,"c":6,"s":2,"v":-0.03},{"r":8,"c":6,"s":3,"v":0},{"r":8,"c":6,"s":10,"v":0},
{"r":8,"c":7,"s":1,"v":0},{"r":8,"c":7,"s":2,"v":0},{"r":8,"c":7,"s":3,"v":0.04},{"r":8,"c":7,"s":4,"v":0},{"r":8,"c":7,"s":7,"v":0},{"r":8,"c":7,"s":8,"v":0.07},{"r":8,"c":7,"s":9,"v":0},{"r":8,"c":7,"s":10,"v":0},
{"r":8,"c":8,"s":1,"v":0},{"r":8,"c":8,"s":5,"v":0},{"r":8,"c":8,"s":6,"v":-0.04},{"r":8,"c":8,"s":7,"v":0},{"r":8,"c":8,"s":10,"v":0},
{"r":8,"c":9,"s":1,"v":-0.07},{"r":8,"c":9,"s":2,"v":-0.01},{"r":8,"c":9,"s":3,"v":0},{"r":8,"c":9,"s":10,"v":0},
{"r":8,"c":10,"s":1,"v":0},{"r":8,"c":10,"s":7,"v":0},{"r":8,"c":10,"s":8,"v":0.09},{"r":8,"c":10,"s":9,"v":0},{"r":8,"c":10,"s":10,"v":0},
{"r":8,"c":12,"s":1,"v":0},{"r":8,"c":12,"s":5,"v":0},{"r":8,"c":12,"s":6,"v":-0.07},{"r":8,"c":12,"s":7,"v":0},{"r":8,"c":12,"s":10,"v":0},
{"r":8,"c":15,"s":1,"v":0},{"r":8,"c":15,"s":3,"v":0},{"r":8,"c":15,"s":4,"v":-0.07},{"r":8,"c":15,"s":5,"v":0},{"r":8,"c":15,"s":10,"v":0},
{"r":8,"c":21,"s":1,"v":0},{"r":8,"c":21,"s":8,"v":0},{"r":8,"c":21,"s":9,"v":0.14},{"r":8,"c":21,"s":10,"v":0},
{"r":8,"c":22,"s":1,"v":0},{"r":8,"c":22,"s":7,"v":0},{"r":8,"c":22,"s":8,"v":0.14},{"r":8,"c":22,"s":9,"v":0},{"r":8,"c":22,"s":10,"v":0},
{"r":8,"c":25,"s":1,"v":0},{"r":8,"c":25,"s":7,"v":0},{"r":8,"c":25,"s":8,"v":0.17},{"r":8,"c":25,"s":9,"v":-0.2},{"r":8,"c":25,"s":10,"v":-0.02},
{"r":8,"c":26,"s":1,"v":0.33},{"r":8,"c":26,"s":2,"v":0},{"r":8,"c":26,"s":7,"v":0},{"r":8,"c":26,"s":8,"v":-0.23},{"r":8,"c":26,"s":9,"v":-0.02},{"r":8,"c":26,"s":10,"v":-0.02},
{"r":8,"c":27,"s":1,"v":0},{"r":8,"c":27,"s":2,"v":0.34},{"r":8,"c":27,"s":3,"v":0},{"r":8,"c":27,"s":8,"v":0},{"r":8,"c":27,"s":9,"v":-0.26},{"r":8,"c":27,"s":10,"v":-0.02},
{"r":8,"c":28,"s":1,"v":0.15},{"r":8,"c":28,"s":2,"v":0},{"r":8,"c":28,"s":10,"v":0},
{"r":8,"c":29,"s":1,"v":0},{"r":8,"c":29,"s":4,"v":0},{"r":8,"c":29,"s":5,"v":0.11},{"r":8,"c":29,"s":6,"v":0},{"r":8,"c":29,"s":10,"v":0},
{"r":9,"c":1,"s":1,"v":0.05},{"r":9,"c":1,"s":2,"v":0},{"r":9,"c":1,"s":3,"v":0.06},{"r":9,"c":1,"s":4,"v":0},{"r":9,"c":1,"s":5,"v":0.05},{"r":9,"c":1,"s":6,"v":0},{"r":9,"c":1,"s":7,"v":0},{"r":9,"c":1,"s":8,"v":0.05},{"r":9,"c":1,"s":9,"v":0.13},{"r":9,"c":1,"s":10,"v":0.07},
{"r":9,"c":5,"s":1,"v":0.05},{"r":9,"c":5,"s":2,"v":0},{"r":9,"c":5,"s":10,"v":0},
{"r":9,"c":6,"s":1,"v":0},{"r":9,"c":6,"s":4,"v":0},{"r":9,"c":6,"s":5,"v":-0.03},{"r":9,"c":6,"s":6,"v":0},{"r":9,"c":6,"s":7,"v":0},{"r":9,"c":6,"s":8,"v":0.04},{"r":9,"c":6,"s":9,"v":0},{"r":9,"c":6,"s":10,"v":0},
{"r":9,"c":7,"s":1,"v":0},{"r":9,"c":7,"s":8,"v":0},{"r":9,"c":7,"s":9,"v":0.07},{"r":9,"c":7,"s":10,"v":0},
{"r":9,"c":9,"s":1,"v":0},{"r":9,"c":9,"s":7,"v":0},{"r":9,"c":9,"s":8,"v":-0.1},{"r":9,"c":9,"s":9,"v":0},{"r":9,"c":9,"s":10,"v":0},
{"r":9,"c":10,"s":1,"v":0.09},{"r":9,"c":10,"s":2,"v":0},{"r":9,"c":10,"s":7,"v":0},{"r":9,"c":10,"s":8,"v":0.03},{"r":9,"c":10,"s":9,"v":0},{"r":9,"c":10,"s":10,"v":0},
{"r":9,"c":17,"s":1,"v":0.09},{"r":9,"c":17,"s":2,"v":0},{"r":9,"c":17,"s":10,"v":0},
{"r":9,"c":21,"s":1,"v":0},{"r":9,"c":21,"s":2,"v":0.71},{"r":9,"c":21,"s":3,"v":0},{"r":9,"c":21,"s":7,"v":0},{"r":9,"c":21,"s":8,"v":-0.06},{"r":9,"c":21,"s":9,"v":-0.18},{"r":9,"c":21,"s":10,"v":0},
{"r":9,"c":23,"s":1,"v":0},{"r":9,"c":23,"s":3,"v":0},{"r":9,"c":23,"s":4,"v":-0.57},{"r":9,"c":23,"s":5,"v":0},{"r":9,"c":23,"s":8,"v":0},{"r":9,"c":23,"s":9,"v":0.11},{"r":9,"c":23,"s":10,"v":0},
{"r":9,"c":26,"s":1,"v":0},{"r":9,"c":26,"s":7,"v":0},{"r":9,"c":26,"s":8,"v":0.31},{"r":9,"c":26,"s":9,"v":-0.05},{"r":9,"c":26,"s":10,"v":-0.42},
{"r":9,"c":27,"s":1,"v":0},{"r":9,"c":27,"s":2,"v":-0.02},{"r":9,"c":27,"s":3,"v":-0.4},{"r":9,"c":27,"s":4,"v":0},{"r":9,"c":27,"s":7,"v":0},{"r":9,"c":27,"s":8,"v":0.15},{"r":9,"c":27,"s":9,"v":0},{"r":9,"c":27,"s":10,"v":0},
{"r":9,"c":28,"s":1,"v":0},{"r":9,"c":28,"s":5,"v":0},{"r":9,"c":28,"s":6,"v":0.61},{"r":9,"c":28,"s":7,"v":-0.01},{"r":9,"c":28,"s":10,"v":-0.01},
{"r":9,"c":29,"s":1,"v":0},{"r":9,"c":29,"s":6,"v":0},{"r":9,"c":29,"s":7,"v":0.64},{"r":9,"c":29,"s":8,"v":0},{"r":9,"c":29,"s":9,"v":-0.2},{"r":9,"c":29,"s":10,"v":0},
{"r":10,"c":1,"s":1,"v":0.06},{"r":10,"c":1,"s":2,"v":0.05},{"r":10,"c":1,"s":3,"v":0.06},{"r":10,"c":1,"s":4,"v":0.07},{"r":10,"c":1,"s":5,"v":0.06},{"r":10,"c":1,"s":6,"v":0.03},{"r":10,"c":1,"s":7,"v":0.06},{"r":10,"c":1,"s":8,"v":0.07},{"r":10,"c":1,"s":9,"v":0.07},{"r":10,"c":1,"s":10,"v":0.04},
{"r":10,"c":4,"s":1,"v":0},{"r":10,"c":4,"s":7,"v":0},{"r":10,"c":4,"s":8,"v":-0.06},{"r":10,"c":4,"s":9,"v":0},{"r":10,"c":4,"s":10,"v":0},
{"r":10,"c":5,"s":1,"v":0},{"r":10,"c":5,"s":2,"v":0},{"r":10,"c":5,"s":3,"v":0.04},{"r":10,"c":5,"s":4,"v":0},{"r":10,"c":5,"s":10,"v":0},
{"r":10,"c":7,"s":1,"v":0},{"r":10,"c":7,"s":2,"v":0.04},{"r":10,"c":7,"s":3,"v":0},{"r":10,"c":7,"s":4,"v":0},{"r":10,"c":7,"s":5,"v":0.03},{"r":10,"c":7,"s":6,"v":0},{"r":10,"c":7,"s":9,"v":0},{"r":10,"c":7,"s":10,"v":0.05},
{"r":10,"c":8,"s":1,"v":0},{"r":10,"c":8,"s":3,"v":0},{"r":10,"c":8,"s":4,"v":0.04},{"r":10,"c":8,"s":5,"v":0.01},{"r":10,"c":8,"s":6,"v":-0.06},{"r":10,"c":8,"s":7,"v":0},{"r":10,"c":8,"s":10,"v":0},
{"r":10,"c":9,"s":1,"v":-0.04},{"r":10,"c":9,"s":2,"v":0},{"r":10,"c":9,"s":10,"v":0},
{"r":10,"c":10,"s":1,"v":0},{"r":10,"c":10,"s":2,"v":0.06},{"r":10,"c":10,"s":3,"v":0},{"r":10,"c":10,"s":6,"v":0},{"r":10,"c":10,"s":7,"v":0.06},{"r":10,"c":10,"s":8,"v":0},{"r":10,"c":10,"s":10,"v":0},
{"r":10,"c":12,"s":1,"v":0.02},{"r":10,"c":12,"s":2,"v":-0.04},{"r":10,"c":12,"s":3,"v":0},{"r":10,"c":12,"s":10,"v":0},
{"r":10,"c":16,"s":1,"v":0},{"r":10,"c":16,"s":9,"v":0},{"r":10,"c":16,"s":10,"v":-0.04},
{"r":10,"c":17,"s":1,"v":0},{"r":10,"c":17,"s":5,"v":0},{"r":10,"c":17,"s":6,"v":0.06},{"r":10,"c":17,"s":7,"v":0},{"r":10,"c":17,"s":10,"v":0},
{"r":10,"c":18,"s":1,"v":0},{"r":10,"c":18,"s":5,"v":0},{"r":10,"c":18,"s":6,"v":0.06},{"r":10,"c":18,"s":7,"v":0},{"r":10,"c":18,"s":10,"v":0},
{"r":10,"c":20,"s":1,"v":0},{"r":10,"c":20,"s":4,"v":0},{"r":10,"c":20,"s":5,"v":-0.11},{"r":10,"c":20,"s":6,"v":0},{"r":10,"c":20,"s":10,"v":0},
{"r":10,"c":21,"s":1,"v":0},{"r":10,"c":21,"s":2,"v":0.11},{"r":10,"c":21,"s":3,"v":0},{"r":10,"c":21,"s":10,"v":0},
{"r":10,"c":23,"s":1,"v":0},{"r":10,"c":23,"s":5,"v":0},{"r":10,"c":23,"s":6,"v":-0.2},{"r":10,"c":23,"s":7,"v":0},{"r":10,"c":23,"s":10,"v":0},
{"r":10,"c":27,"s":1,"v":0},{"r":10,"c":27,"s":5,"v":0},{"r":10,"c":27,"s":6,"v":-0.22},{"r":10,"c":27,"s":7,"v":0.15},{"r":10,"c":27,"s":8,"v":-0.02},{"r":10,"c":27,"s":9,"v":-0.01},{"r":10,"c":27,"s":10,"v":0.11},
{"r":11,"c":1,"s":1,"v":0.1},{"r":11,"c":1,"s":2,"v":0.16},{"r":11,"c":1,"s":3,"v":0},{"r":11,"c":1,"s":4,"v":0.09},{"r":11,"c":1,"s":5,"v":0},{"r":11,"c":1,"s":8,"v":0},{"r":11,"c":1,"s":9,"v":0.16},{"r":11,"c":1,"s":10,"v":0},
{"r":11,"c":7,"s":1,"v":0},{"r":11,"c":7,"s":2,"v":0.11},{"r":11,"c":7,"s":3,"v":0},{"r":11,"c":7,"s":8,"v":0},{"r":11,"c":7,"s":9,"v":0.1},{"r":11,"c":7,"s":10,"v":0},
{"r":11,"c":10,"s":1,"v":0},{"r":11,"c":10,"s":2,"v":0.09},{"r":11,"c":10,"s":3,"v":0},{"r":11,"c":10,"s":8,"v":0},{"r":11,"c":10,"s":9,"v":0.1},{"r":11,"c":10,"s":10,"v":0},
{"r":11,"c":11,"s":1,"v":0},{"r":11,"c":11,"s":2,"v":0.34},{"r":11,"c":11,"s":3,"v":0},{"r":11,"c":11,"s":8,"v":0},{"r":11,"c":11,"s":9,"v":-0.36},{"r":11,"c":11,"s":10,"v":0},
{"r":11,"c":12,"s":1,"v":0},{"r":11,"c":12,"s":2,"v":0.15},{"r":11,"c":12,"s":3,"v":0},{"r":11,"c":12,"s":4,"v":0},{"r":11,"c":12,"s":5,"v":-0.48},{"r":11,"c":12,"s":6,"v":0},{"r":11,"c":12,"s":8,"v":0},{"r":11,"c":12,"s":9,"v":0.15},{"r":11,"c":12,"s":10,"v":0},
{"r":11,"c":13,"s":1,"v":0},{"r":11,"c":13,"s":2,"v":0.15},{"r":11,"c":13,"s":3,"v":-0.46},{"r":11,"c":13,"s":4,"v":0},{"r":11,"c":13,"s":8,"v":0},{"r":11,"c":13,"s":9,"v":0.15},{"r":11,"c":13,"s":10,"v":0},
{"r":11,"c":14,"s":1,"v":0},{"r":11,"c":14,"s":2,"v":0.15},{"r":11,"c":14,"s":3,"v":0},{"r":11,"c":14,"s":7,"v":0},{"r":11,"c":14,"s":8,"v":-0.46},{"r":11,"c":14,"s":9,"v":0.15},{"r":11,"c":14,"s":10,"v":0},
{"r":11,"c":15,"s":1,"v":0.25},{"r":11,"c":15,"s":2,"v":-0.25},{"r":11,"c":15,"s":3,"v":0},{"r":11,"c":15,"s":4,"v":0.24},{"r":11,"c":15,"s":5,"v":0},{"r":11,"c":15,"s":8,"v":0},{"r":11,"c":15,"s":9,"v":-0.25},{"r":11,"c":15,"s":10,"v":0},
{"r":11,"c":16,"s":1,"v":0.32},{"r":11,"c":16,"s":2,"v":0},{"r":11,"c":16,"s":3,"v":0},{"r":11,"c":16,"s":4,"v":-0.36},{"r":11,"c":16,"s":5,"v":0},{"r":11,"c":16,"s":10,"v":0},
{"r":11,"c":17,"s":1,"v":-0.15},{"r":11,"c":17,"s":2,"v":0},{"r":11,"c":17,"s":3,"v":-0.15},{"r":11,"c":17,"s":4,"v":0},{"r":11,"c":17,"s":9,"v":0},{"r":11,"c":17,"s":10,"v":0.44},
{"r":11,"c":18,"s":1,"v":0},{"r":11,"c":18,"s":2,"v":-0.16},{"r":11,"c":18,"s":3,"v":0},{"r":11,"c":18,"s":6,"v":0},{"r":11,"c":18,"s":7,"v":0.45},{"r":11,"c":18,"s":8,"v":0},{"r":11,"c":18,"s":9,"v":-0.16},{"r":11,"c":18,"s":10,"v":0},
{"r":11,"c":19,"s":1,"v":-0.15},{"r":11,"c":19,"s":2,"v":0},{"r":11,"c":19,"s":3,"v":0},{"r":11,"c":19,"s":4,"v":-0.15},{"r":11,"c":19,"s":5,"v":0},{"r":11,"c":19,"s":6,"v":0.48},{"r":11,"c":19,"s":7,"v":0},{"r":11,"c":19,"s":10,"v":0},
{"r":12,"c":1,"s":1,"v":0.1},{"r":12,"c":1,"s":2,"v":0.16},{"r":12,"c":1,"s":3,"v":0},{"r":12,"c":1,"s":4,"v":0.09},{"r":12,"c":1,"s":5,"v":0},{"r":12,"c":1,"s":8,"v":0},{"r":12,"c":1,"s":9,"v":0.17},{"r":12,"c":1,"s":10,"v":0},
{"r":12,"c":7,"s":1,"v":0},{"r":12,"c":7,"s":2,"v":0.09},{"r":12,"c":7,"s":3,"v":0},{"r":12,"c":7,"s":8,"v":0},{"r":12,"c":7,"s":9,"v":0.11},{"r":12,"c":7,"s":10,"v":0},
{"r":12,"c":10,"s":1,"v":0},{"r":12,"c":10,"s":2,"v":0.09},{"r":12,"c":10,"s":3,"v":0},{"r":12,"c":10,"s":8,"v":0},{"r":12,"c":10,"s":9,"v":0.1},{"r":12,"c":10,"s":10,"v":0},
{"r":12,"c":11,"s":1,"v":0},{"r":12,"c":11,"s":2,"v":0.37},{"r":12,"c":11,"s":3,"v":0},{"r":12,"c":11,"s":8,"v":0},{"r":12,"c":11,"s":9,"v":-0.38},{"r":12,"c":11,"s":10,"v":0},
{"r":12,"c":12,"s":1,"v":0},{"r":12,"c":12,"s":2,"v":0.15},{"r":12,"c":12,"s":3,"v":0},{"r":12,"c":12,"s":4,"v":0},{"r":12,"c":12,"s":5,"v":-0.45},{"r":12,"c":12,"s":6,"v":0},{"r":12,"c":12,"s":8,"v":0},{"r":12,"c":12,"s":9,"v":0.17},{"r":12,"c":12,"s":10,"v":0},
{"r":12,"c":13,"s":1,"v":0},{"r":12,"c":13,"s":2,"v":0.15},{"r":12,"c":13,"s":3,"v":-0.46},{"r":12,"c":13,"s":4,"v":0},{"r":12,"c":13,"s":8,"v":0},{"r":12,"c":13,"s":9,"v":0.17},{"r":12,"c":13,"s":10,"v":0},
{"r":12,"c":14,"s":1,"v":0},{"r":12,"c":14,"s":2,"v":0.15},{"r":12,"c":14,"s":3,"v":0},{"r":12,"c":14,"s":7,"v":0},{"r":12,"c":14,"s":8,"v":-0.44},{"r":12,"c":14,"s":9,"v":0.18},{"r":12,"c":14,"s":10,"v":0},
{"r":12,"c":15,"s":1,"v":0.26},{"r":12,"c":15,"s":2,"v":-0.26},{"r":12,"c":15,"s":3,"v":0},{"r":12,"c":15,"s":4,"v":0.25},{"r":12,"c":15,"s":5,"v":0},{"r":12,"c":15,"s":8,"v":0},{"r":12,"c":15,"s":9,"v":-0.26},{"r":12,"c":15,"s":10,"v":0},
{"r":12,"c":16,"s":1,"v":0.33},{"r":12,"c":16,"s":2,"v":0},{"r":12,"c":16,"s":3,"v":0},{"r":12,"c":16,"s":4,"v":-0.36},{"r":12,"c":16,"s":5,"v":0},{"r":12,"c":16,"s":10,"v":0},
{"r":12,"c":17,"s":1,"v":-0.14},{"r":12,"c":17,"s":2,"v":0},{"r":12,"c":17,"s":3,"v":-0.14},{"r":12,"c":17,"s":4,"v":0},{"r":12,"c":17,"s":9,"v":0},{"r":12,"c":17,"s":10,"v":0.45},
{"r":12,"c":18,"s":1,"v":0},{"r":12,"c":18,"s":2,"v":-0.15},{"r":12,"c":18,"s":3,"v":0},{"r":12,"c":18,"s":6,"v":0},{"r":12,"c":18,"s":7,"v":0.44},{"r":12,"c":18,"s":8,"v":0},{"r":12,"c":18,"s":9,"v":-0.16},{"r":12,"c":18,"s":10,"v":0},
{"r":12,"c":19,"s":1,"v":-0.14},{"r":12,"c":19,"s":2,"v":0},{"r":12,"c":19,"s":3,"v":0},{"r":12,"c":19,"s":4,"v":-0.14},{"r":12,"c":19,"s":5,"v":0},{"r":12,"c":19,"s":6,"v":0.43},{"r":12,"c":19,"s":7,"v":0},{"r":12,"c":19,"s":10,"v":0},
{"r":13,"c":1,"s":1,"v":0.11},{"r":13,"c":1,"s":2,"v":0.16},{"r":13,"c":1,"s":3,"v":0},{"r":13,"c":1,"s":4,"v":0.09},{"r":13,"c":1,"s":5,"v":0},{"r":13,"c":1,"s":8,"v":0},{"r":13,"c":1,"s":9,"v":0.16},{"r":13,"c":1,"s":10,"v":0},
{"r":13,"c":7,"s":1,"v":0},{"r":13,"c":7,"s":2,"v":0.09},{"r":13,"c":7,"s":3,"v":0},{"r":13,"c":7,"s":8,"v":0},{"r":13,"c":7,"s":9,"v":0.12},{"r":13,"c":7,"s":10,"v":0},
{"r":13,"c":10,"s":1,"v":0},{"r":13,"c":10,"s":2,"v":0.09},{"r":13,"c":10,"s":3,"v":0},{"r":13,"c":10,"s":8,"v":0},{"r":13,"c":10,"s":9,"v":0.1},{"r":13,"c":10,"s":10,"v":0},
{"r":13,"c":11,"s":1,"v":0},{"r":13,"c":11,"s":2,"v":0.35},{"r":13,"c":11,"s":3,"v":0},{"r":13,"c":11,"s":8,"v":0},{"r":13,"c":11,"s":9,"v":-0.36},{"r":13,"c":11,"s":10,"v":0},
{"r":13,"c":12,"s":1,"v":0},{"r":13,"c":12,"s":2,"v":0.15},{"r":13,"c":12,"s":3,"v":0},{"r":13,"c":12,"s":4,"v":0},{"r":13,"c":12,"s":5,"v":-0.46},{"r":13,"c":12,"s":6,"v":0},{"r":13,"c":12,"s":8,"v":0},{"r":13,"c":12,"s":9,"v":0.16},{"r":13,"c":12,"s":10,"v":0},
{"r":13,"c":13,"s":1,"v":0},{"r":13,"c":13,"s":2,"v":0.15},{"r":13,"c":13,"s":3,"v":-0.46},{"r":13,"c":13,"s":4,"v":0},{"r":13,"c":13,"s":8,"v":0},{"r":13,"c":13,"s":9,"v":0.16},{"r":13,"c":13,"s":10,"v":0},
{"r":13,"c":14,"s":1,"v":0},{"r":13,"c":14,"s":2,"v":0.15},{"r":13,"c":14,"s":3,"v":0},{"r":13,"c":14,"s":7,"v":0},{"r":13,"c":14,"s":8,"v":-0.47},{"r":13,"c":14,"s":9,"v":0.16},{"r":13,"c":14,"s":10,"v":0},
{"r":13,"c":15,"s":1,"v":0.27},{"r":13,"c":15,"s":2,"v":-0.26},{"r":13,"c":15,"s":3,"v":0},{"r":13,"c":15,"s":4,"v":0.25},{"r":13,"c":15,"s":5,"v":0},{"r":13,"c":15,"s":8,"v":0},{"r":13,"c":15,"s":9,"v":-0.26},{"r":13,"c":15,"s":10,"v":0},
{"r":13,"c":16,"s":1,"v":0.35},{"r":13,"c":16,"s":2,"v":0},{"r":13,"c":16,"s":3,"v":0},{"r":13,"c":16,"s":4,"v":-0.36},{"r":13,"c":16,"s":5,"v":0},{"r":13,"c":16,"s":10,"v":0},
{"r":13,"c":17,"s":1,"v":-0.15},{"r":13,"c":17,"s":2,"v":0},{"r":13,"c":17,"s":3,"v":-0.15},{"r":13,"c":17,"s":4,"v":0},{"r":13,"c":17,"s":9,"v":0},{"r":13,"c":17,"s":10,"v":0.44},
{"r":13,"c":18,"s":1,"v":0},{"r":13,"c":18,"s":2,"v":-0.15},{"r":13,"c":18,"s":3,"v":0},{"r":13,"c":18,"s":6,"v":0},{"r":13,"c":18,"s":7,"v":0.47},{"r":13,"c":18,"s":8,"v":0},{"r":13,"c":18,"s":9,"v":-0.17},{"r":13,"c":18,"s":10,"v":0},
{"r":13,"c":19,"s":1,"v":-0.15},{"r":13,"c":19,"s":2,"v":0},{"r":13,"c":19,"s":3,"v":0},{"r":13,"c":19,"s":4,"v":-0.14},{"r":13,"c":19,"s":5,"v":0},{"r":13,"c":19,"s":6,"v":0.45},{"r":13,"c":19,"s":7,"v":0},{"r":13,"c":19,"s":10,"v":0},
{"r":14,"c":1,"s":1,"v":0.11},{"r":14,"c":1,"s":2,"v":0.16},{"r":14,"c":1,"s":3,"v":0},{"r":14,"c":1,"s":4,"v":0.09},{"r":14,"c":1,"s":5,"v":0},{"r":14,"c":1,"s":8,"v":0},{"r":14,"c":1,"s":9,"v":0.16},{"r":14,"c":1,"s":10,"v":0},
{"r":14,"c":7,"s":1,"v":0},{"r":14,"c":7,"s":2,"v":0.11},{"r":14,"c":7,"s":3,"v":0},{"r":14,"c":7,"s":8,"v":0},{"r":14,"c":7,"s":9,"v":0.1},{"r":14,"c":7,"s":10,"v":0},
{"r":14,"c":10,"s":1,"v":0},{"r":14,"c":10,"s":2,"v":0.09},{"r":14,"c":10,"s":3,"v":0},{"r":14,"c":10,"s":8,"v":0},{"r":14,"c":10,"s":9,"v":0.1},{"r":14,"c":10,"s":10,"v":0},
{"r":14,"c":11,"s":1,"v":0},{"r":14,"c":11,"s":2,"v":0.37},{"r":14,"c":11,"s":3,"v":0},{"r":14,"c":11,"s":8,"v":0},{"r":14,"c":11,"s":9,"v":-0.36},{"r":14,"c":11,"s":10,"v":0},
{"r":14,"c":12,"s":1,"v":0},{"r":14,"c":12,"s":2,"v":0.15},{"r":14,"c":12,"s":3,"v":0},{"r":14,"c":12,"s":4,"v":0},{"r":14,"c":12,"s":5,"v":-0.46},{"r":14,"c":12,"s":6,"v":0},{"r":14,"c":12,"s":8,"v":0},{"r":14,"c":12,"s":9,"v":0.16},{"r":14,"c":12,"s":10,"v":0},
{"r":14,"c":13,"s":1,"v":0},{"r":14,"c":13,"s":2,"v":0.15},{"r":14,"c":13,"s":3,"v":-0.46},{"r":14,"c":13,"s":4,"v":0},{"r":14,"c":13,"s":8,"v":0},{"r":14,"c":13,"s":9,"v":0.16},{"r":14,"c":13,"s":10,"v":0},
{"r":14,"c":14,"s":1,"v":0},{"r":14,"c":14,"s":2,"v":0.15},{"r":14,"c":14,"s":3,"v":0},{"r":14,"c":14,"s":7,"v":0},{"r":14,"c":14,"s":8,"v":-0.47},{"r":14,"c":14,"s":9,"v":0.16},{"r":14,"c":14,"s":10,"v":0},
{"r":14,"c":15,"s":1,"v":0.26},{"r":14,"c":15,"s":2,"v":-0.26},{"r":14,"c":15,"s":3,"v":0},{"r":14,"c":15,"s":4,"v":0.25},{"r":14,"c":15,"s":5,"v":0},{"r":14,"c":15,"s":8,"v":0},{"r":14,"c":15,"s":9,"v":-0.26},{"r":14,"c":15,"s":10,"v":0},
{"r":14,"c":16,"s":1,"v":0.34},{"r":14,"c":16,"s":2,"v":0},{"r":14,"c":16,"s":3,"v":0},{"r":14,"c":16,"s":4,"v":-0.36},{"r":14,"c":16,"s":5,"v":0},{"r":14,"c":16,"s":10,"v":0},
{"r":14,"c":17,"s":1,"v":-0.15},{"r":14,"c":17,"s":2,"v":0},{"r":14,"c":17,"s":3,"v":-0.15},{"r":14,"c":17,"s":4,"v":0},{"r":14,"c":17,"s":9,"v":0},{"r":14,"c":17,"s":10,"v":0.45},
{"r":14,"c":18,"s":1,"v":0},{"r":14,"c":18,"s":2,"v":-0.15},{"r":14,"c":18,"s":3,"v":0},{"r":14,"c":18,"s":6,"v":0},{"r":14,"c":18,"s":7,"v":0.46},{"r":14,"c":18,"s":8,"v":0},{"r":14,"c":18,"s":9,"v":-0.16},{"r":14,"c":18,"s":10,"v":0},
{"r":14,"c":19,"s":1,"v":-0.15},{"r":14,"c":19,"s":2,"v":0},{"r":14,"c":19,"s":3,"v":0},{"r":14,"c":19,"s":4,"v":-0.14},{"r":14,"c":19,"s":5,"v":0},{"r":14,"c":19,"s":6,"v":0.48},{"r":14,"c":19,"s":7,"v":0},{"r":14,"c":19,"s":10,"v":0},
{"r":15,"c":1,"s":1,"v":0.11},{"r":15,"c":1,"s":2,"v":0.1},{"r":15,"c":1,"s":3,"v":0},{"r":15,"c":1,"s":4,"v":0.11},{"r":15,"c":1,"s":5,"v":0.11},{"r":15,"c":1,"s":6,"v":0},{"r":15,"c":1,"s":7,"v":0},{"r":15,"c":1,"s":8,"v":0.11},{"r":15,"c":1,"s":9,"v":0.11},{"r":15,"c":1,"s":10,"v":0},
{"r":15,"c":2,"s":1,"v":0},{"r":15,"c":2,"s":4,"v":0},{"r":15,"c":2,"s":5,"v":-0.28},{"r":15,"c":2,"s":6,"v":0},{"r":15,"c":2,"s":8,"v":0},{"r":15,"c":2,"s":9,"v":0.3},{"r":15,"c":2,"s":10,"v":0},
{"r":15,"c":3,"s":1,"v":0.33},{"r":15,"c":3,"s":2,"v":0},{"r":15,"c":3,"s":4,"v":0},{"r":15,"c":3,"s":5,"v":-0.18},{"r":15,"c":3,"s":6,"v":0},{"r":15,"c":3,"s":8,"v":0},{"r":15,"c":3,"s":9,"v":-0.18},{"r":15,"c":3,"s":10,"v":0},
{"r":15,"c":4,"s":1,"v":0},{"r":15,"c":4,"s":3,"v":0},{"r":15,"c":4,"s":4,"v":-0.29},{"r":15,"c":4,"s":5,"v":0},{"r":15,"c":4,"s":7,"v":0},{"r":15,"c":4,"s":8,"v":0.3},{"r":15,"c":4,"s":9,"v":0},{"r":15,"c":4,"s":10,"v":0},
{"r":15,"c":5,"s":1,"v":0},{"r":15,"c":5,"s":2,"v":0.34},{"r":15,"c":5,"s":3,"v":0},{"r":15,"c":5,"s":4,"v":-0.17},{"r":15,"c":5,"s":5,"v":0},{"r":15,"c":5,"s":7,"v":0},{"r":15,"c":5,"s":8,"v":-0.17},{"r":15,"c":5,"s":9,"v":0},{"r":15,"c":5,"s":10,"v":0},
{"r":15,"c":6,"s":1,"v":0.17},{"r":15,"c":6,"s":2,"v":-0.17},{"r":15,"c":6,"s":3,"v":0},{"r":15,"c":6,"s":4,"v":-0.17},{"r":15,"c":6,"s":5,"v":0.17},{"r":15,"c":6,"s":6,"v":0},{"r":15,"c":6,"s":7,"v":0},{"r":15,"c":6,"s":8,"v":-0.17},{"r":15,"c":6,"s":9,"v":0.17},{"r":15,"c":6,"s":10,"v":0},
{"r":15,"c":7,"s":1,"v":0},{"r":15,"c":7,"s":6,"v":0},{"r":15,"c":7,"s":7,"v":0.39},{"r":15,"c":7,"s":8,"v":0},{"r":15,"c":7,"s":10,"v":0},
{"r":15,"c":8,"s":1,"v":0},{"r":15,"c":8,"s":2,"v":0},{"r":15,"c":8,"s":3,"v":-0.29},{"r":15,"c":8,"s":4,"v":0},{"r":15,"c":8,"s":5,"v":0},{"r":15,"c":8,"s":6,"v":0.28},{"r":15,"c":8,"s":7,"v":0},{"r":15,"c":8,"s":10,"v":0},
{"r":15,"c":9,"s":1,"v":0.07},{"r":15,"c":9,"s":2,"v":0.07},{"r":15,"c":9,"s":3,"v":-0.25},{"r":15,"c":9,"s":4,"v":0.07},{"r":15,"c":9,"s":5,"v":0.07},{"r":15,"c":9,"s":6,"v":-0.25},{"r":15,"c":9,"s":7,"v":0},{"r":15,"c":9,"s":8,"v":0.07},{"r":15,"c":9,"s":9,"v":0.07},{"r":15,"c":9,"s":10,"v":0},
{"r":15,"c":10,"s":1,"v":0},{"r":15,"c":10,"s":9,"v":0},{"r":15,"c":10,"s":10,"v":0.38},
{"r":16,"c":1,"s":1,"v":0.11},{"r":16,"c":1,"s":2,"v":0.1},{"r":16,"c":1,"s":3,"v":0},{"r":16,"c":1,"s":4,"v":0.11},{"r":16,"c":1,"s":5,"v":0.11},{"r":16,"c":1,"s":6,"v":0},{"r":16,"c":1,"s":7,"v":0},{"r":16,"c":1,"s":8,"v":0.11},{"r":16,"c":1,"s":9,"v":0.11},{"r":16,"c":1,"s":10,"v":0},
{"r":16,"c":2,"s":1,"v":0},{"r":16,"c":2,"s":4,"v":0},{"r":16,"c":2,"s":5,"v":-0.28},{"r":16,"c":2,"s":6,"v":0},{"r":16,"c":2,"s":8,"v":0},{"r":16,"c":2,"s":9,"v":0.3},{"r":16,"c":2,"s":10,"v":0},
{"r":16,"c":3,"s":1,"v":0.33},{"r":16,"c":3,"s":2,"v":0},{"r":16,"c":3,"s":4,"v":0},{"r":16,"c":3,"s":5,"v":-0.18},{"r":16,"c":3,"s":6,"v":0},{"r":16,"c":3,"s":8,"v":0},{"r":16,"c":3,"s":9,"v":-0.18},{"r":16,"c":3,"s":10,"v":0},
{"r":16,"c":4,"s":1,"v":0},{"r":16,"c":4,"s":3,"v":0},{"r":16,"c":4,"s":4,"v":-0.29},{"r":16,"c":4,"s":5,"v":0},{"r":16,"c":4,"s":7,"v":0},{"r":16,"c":4,"s":8,"v":0.3},{"r":16,"c":4,"s":9,"v":0},{"r":16,"c":4,"s":10,"v":0},
{"r":16,"c":5,"s":1,"v":0},{"r":16,"c":5,"s":2,"v":0.34},{"r":16,"c":5,"s":3,"v":0},{"r":16,"c":5,"s":4,"v":-0.17},{"r":16,"c":5,"s":5,"v":0},{"r":16,"c":5,"s":7,"v":0},{"r":16,"c":5,"s":8,"v":-0.17},{"r":16,"c":5,"s":9,"v":0},{"r":16,"c":5,"s":10,"v":0},
{"r":16,"c":6,"s":1,"v":0.17},{"r":16,"c":6,"s":2,"v":-0.17},{"r":16,"c":6,"s":3,"v":0},{"r":16,"c":6,"s":4,"v":-0.17},{"r":16,"c":6,"s":5,"v":0.17},{"r":16,"c":6,"s":6,"v":0},{"r":16,"c":6,"s":7,"v":0},{"r":16,"c":6,"s":8,"v":-0.17},{"r":16,"c":6,"s":9,"v":0.17},{"r":16,"c":6,"s":10,"v":0},
{"r":16,"c":7,"s":1,"v":0},{"r":16,"c":7,"s":6,"v":0},{"r":16,"c":7,"s":7,"v":0.39},{"r":16,"c":7,"s":8,"v":0},{"r":16,"c":7,"s":10,"v":0},
{"r":16,"c":8,"s":1,"v":0},{"r":16,"c":8,"s":2,"v":0},{"r":16,"c":8,"s":3,"v":-0.29},{"r":16,"c":8,"s":4,"v":0},{"r":16,"c":8,"s":5,"v":0},{"r":16,"c":8,"s":6,"v":0.28},{"r":16,"c":8,"s":7,"v":0},{"r":16,"c":8,"s":10,"v":0},
{"r":16,"c":9,"s":1,"v":0.07},{"r":16,"c":9,"s":2,"v":0.07},{"r":16,"c":9,"s":3,"v":-0.25},{"r":16,"c":9,"s":4,"v":0.07},{"r":16,"c":9,"s":5,"v":0.07},{"r":16,"c":9,"s":6,"v":-0.25},{"r":16,"c":9,"s":7,"v":0},{"r":16,"c":9,"s":8,"v":0.07},{"r":16,"c":9,"s":9,"v":0.07},{"r":16,"c":9,"s":10,"v":0},
{"r":16,"c":10,"s":1,"v":0},{"r":16,"c":10,"s":9,"v":0},{"r":16,"c":10,"s":10,"v":0.38},
{"r":17,"c":1,"s":1,"v":0.11},{"r":17,"c":1,"s":2,"v":0.1},{"r":17,"c":1,"s":3,"v":0},{"r":17,"c":1,"s":4,"v":0.11},{"r":17,"c":1,"s":5,"v":0.11},{"r":17,"c":1,"s":6,"v":0},{"r":17,"c":1,"s":7,"v":0},{"r":17,"c":1,"s":8,"v":0.11},{"r":17,"c":1,"s":9,"v":0.11},{"r":17,"c":1,"s":10,"v":0},
{"r":17,"c":2,"s":1,"v":0},{"r":17,"c":2,"s":4,"v":0},{"r":17,"c":2,"s":5,"v":-0.28},{"r":17,"c":2,"s":6,"v":0},{"r":17,"c":2,"s":8,"v":0},{"r":17,"c":2,"s":9,"v":0.3},{"r":17,"c":2,"s":10,"v":0},
{"r":17,"c":3,"s":1,"v":0.33},{"r":17,"c":3,"s":2,"v":0},{"r":17,"c":3,"s":4,"v":0},{"r":17,"c":3,"s":5,"v":-0.18},{"r":17,"c":3,"s":6,"v":0},{"r":17,"c":3,"s":8,"v":0},{"r":17,"c":3,"s":9,"v":-0.18},{"r":17,"c":3,"s":10,"v":0},
{"r":17,"c":4,"s":1,"v":0},{"r":17,"c":4,"s":3,"v":0},{"r":17,"c":4,"s":4,"v":-0.29},{"r":17,"c":4,"s":5,"v":0},{"r":17,"c":4,"s":7,"v":0},{"r":17,"c":4,"s":8,"v":0.3},{"r":17,"c":4,"s":9,"v":0},{"r":17,"c":4,"s":10,"v":0},
{"r":17,"c":5,"s":1,"v":0},{"r":17,"c":5,"s":2,"v":0.34},{"r":17,"c":5,"s":3,"v":0},{"r":17,"c":5,"s":4,"v":-0.17},{"r":17,"c":5,"s":5,"v":0},{"r":17,"c":5,"s":7,"v":0},{"r":17,"c":5,"s":8,"v":-0.17},{"r":17,"c":5,"s":9,"v":0},{"r":17,"c":5,"s":10,"v":0},
{"r":17,"c":6,"s":1,"v":0.17},{"r":17,"c":6,"s":2,"v":-0.17},{"r":17,"c":6,"s":3,"v":0},{"r":17,"c":6,"s":4,"v":-0.17},{"r":17,"c":6,"s":5,"v":0.17},{"r":17,"c":6,"s":6,"v":0},{"r":17,"c":6,"s":7,"v":0},{"r":17,"c":6,"s":8,"v":-0.17},{"r":17,"c":6,"s":9,"v":0.17},{"r":17,"c":6,"s":10,"v":0},
{"r":17,"c":7,"s":1,"v":0},{"r":17,"c":7,"s":6,"v":0},{"r":17,"c":7,"s":7,"v":0.39},{"r":17,"c":7,"s":8,"v":0},{"r":17,"c":7,"s":10,"v":0},
{"r":17,"c":8,"s":1,"v":0},{"r":17,"c":8,"s":2,"v":0},{"r":17,"c":8,"s":3,"v":-0.29},{"r":17,"c":8,"s":4,"v":0},{"r":17,"c":8,"s":5,"v":0},{"r":17,"c":8,"s":6,"v":0.28},{"r":17,"c":8,"s":7,"v":0},{"r":17,"c":8,"s":10,"v":0},
{"r":17,"c":9,"s":1,"v":0.07},{"r":17,"c":9,"s":2,"v":0.07},{"r":17,"c":9,"s":3,"v":-0.25},{"r":17,"c":9,"s":4,"v":0.07},{"r":17,"c":9,"s":5,"v":0.07},{"r":17,"c":9,"s":6,"v":-0.25},{"r":17,"c":9,"s":7,"v":0},{"r":17,"c":9,"s":8,"v":0.07},{"r":17,"c":9,"s":9,"v":0.07},{"r":17,"c":9,"s":10,"v":0},
{"r":17,"c":10,"s":1,"v":0},{"r":17,"c":10,"s":9,"v":0},{"r":17,"c":10,"s":10,"v":0.38},
{"r":18,"c":1,"s":1,"v":0.11},{"r":18,"c":1,"s":2,"v":0.1},{"r":18,"c":1,"s":3,"v":0},{"r":18,"c":1,"s":4,"v":0.11},{"r":18,"c":1,"s":5,"v":0.11},{"r":18,"c":1,"s":6,"v":0},{"r":18,"c":1,"s":7,"v":0},{"r":18,"c":1,"s":8,"v":0.11},{"r":18,"c":1,"s":9,"v":0.11},{"r":18,"c":1,"s":10,"v":0},
{"r":18,"c":2,"s":1,"v":0},{"r":18,"c":2,"s":4,"v":0},{"r":18,"c":2,"s":5,"v":-0.28},{"r":18,"c":2,"s":6,"v":0},{"r":18,"c":2,"s":8,"v":0},{"r":18,"c":2,"s":9,"v":0.3},{"r":18,"c":2,"s":10,"v":0},
{"r":18,"c":3,"s":1,"v":0.33},{"r":18,"c":3,"s":2,"v":0},{"r":18,"c":3,"s":4,"v":0},{"r":18,"c":3,"s":5,"v":-0.18},{"r":18,"c":3,"s":6,"v":0},{"r":18,"c":3,"s":8,"v":0},{"r":18,"c":3,"s":9,"v":-0.18},{"r":18,"c":3,"s":10,"v":0},
{"r":18,"c":4,"s":1,"v":0},{"r":18,"c":4,"s":3,"v":0},{"r":18,"c":4,"s":4,"v":-0.29},{"r":18,"c":4,"s":5,"v":0},{"r":18,"c":4,"s":7,"v":0},{"r":18,"c":4,"s":8,"v":0.3},{"r":18,"c":4,"s":9,"v":0},{"r":18,"c":4,"s":10,"v":0},
{"r":18,"c":5,"s":1,"v":0},{"r":18,"c":5,"s":2,"v":0.34},{"r":18,"c":5,"s":3,"v":0},{"r":18,"c":5,"s":4,"v":-0.17},{"r":18,"c":5,"s":5,"v":0},{"r":18,"c":5,"s":7,"v":0},{"r":18,"c":5,"s":8,"v":-0.17},{"r":18,"c":5,"s":9,"v":0},{"r":18,"c":5,"s":10,"v":0},
{"r":18,"c":6,"s":1,"v":0.17},{"r":18,"c":6,"s":2,"v":-0.17},{"r":18,"c":6,"s":3,"v":0},{"r":18,"c":6,"s":4,"v":-0.17},{"r":18,"c":6,"s":5,"v":0.17},{"r":18,"c":6,"s":6,"v":0},{"r":18,"c":6,"s":7,"v":0},{"r":18,"c":6,"s":8,"v":-0.17},{"r":18,"c":6,"s":9,"v":0.17},{"r":18,"c":6,"s":10,"v":0},
{"r":18,"c":7,"s":1,"v":0},{"r":18,"c":7,"s":6,"v":0},{"r":18,"c":7,"s":7,"v":0.39},{"r":18,"c":7,"s":8,"v":0},{"r":18,"c":7,"s":10,"v":0},
{"r":18,"c":8,"s":1,"v":0},{"r":18,"c":8,"s":2,"v":0},{"r":18,"c":8,"s":3,"v":-0.29},{"r":18,"c":8,"s":4,"v":0},{"r":18,"c":8,"s":5,"v":0},{"r":18,"c":8,"s":6,"v":0.28},{"r":18,"c":8,"s":7,"v":0},{"r":18,"c":8,"s":10,"v":0},
{"r":18,"c":9,"s":1,"v":0.07},{"r":18,"c":9,"s":2,"v":0.07},{"r":18,"c":9,"s":3,"v":-0.25},{"r":18,"c":9,"s":4,"v":0.07},{"r":18,"c":9,"s":5,"v":0.07},{"r":18,"c":9,"s":6,"v":-0.25},{"r":18,"c":9,"s":7,"v":0},{"r":18,"c":9,"s":8,"v":0.07},{"r":18,"c":9,"s":9,"v":0.07},{"r":18,"c":9,"s":10,"v":0},
{"r":18,"c":10,"s":1,"v":0},{"r":18,"c":10,"s":9,"v":0},{"r":18,"c":10,"s":10,"v":0.38},
{"r":19,"c":1,"s":1,"v":0.11},{"r":19,"c":1,"s":2,"v":0.1},{"r":19,"c":1,"s":3,"v":0},{"r":19,"c":1,"s":4,"v":0.11},{"r":19,"c":1,"s":5,"v":0.11},{"r":19,"c":1,"s":6,"v":0},{"r":19,"c":1,"s":7,"v":0},{"r":19,"c":1,"s":8,"v":0.11},{"r":19,"c":1,"s":9,"v":0.11},{"r":19,"c":1,"s":10,"v":0},
{"r":19,"c":2,"s":1,"v":0},{"r":19,"c":2,"s":4,"v":0},{"r":19,"c":2,"s":5,"v":-0.28},{"r":19,"c":2,"s":6,"v":0},{"r":19,"c":2,"s":8,"v":0},{"r":19,"c":2,"s":9,"v":0.3},{"r":19,"c":2,"s":10,"v":0},
{"r":19,"c":3,"s":1,"v":0.33},{"r":19,"c":3,"s":2,"v":0},{"r":19,"c":3,"s":4,"v":0},{"r":19,"c":3,"s":5,"v":-0.18},{"r":19,"c":3,"s":6,"v":0},{"r":19,"c":3,"s":8,"v":0},{"r":19,"c":3,"s":9,"v":-0.18},{"r":19,"c":3,"s":10,"v":0},
{"r":19,"c":4,"s":1,"v":0},{"r":19,"c":4,"s":3,"v":0},{"r":19,"c":4,"s":4,"v":-0.29},{"r":19,"c":4,"s":5,"v":0},{"r":19,"c":4,"s":7,"v":0},{"r":19,"c":4,"s":8,"v":0.3},{"r":19,"c":4,"s":9,"v":0},{"r":19,"c":4,"s":10,"v":0},
{"r":19,"c":5,"s":1,"v":0},{"r":19,"c":5,"s":2,"v":0.34},{"r":19,"c":5,"s":3,"v":0},{"r":19,"c":5,"s":4,"v":-0.17},{"r":19,"c":5,"s":5,"v":0},{"r":19,"c":5,"s":7,"v":0},{"r":19,"c":5,"s":8,"v":-0.17},{"r":19,"c":5,"s":9,"v":0},{"r":19,"c":5,"s":10,"v":0},
{"r":19,"c":6,"s":1,"v":0.17},{"r":19,"c":6,"s":2,"v":-0.17},{"r":19,"c":6,"s":3,"v":0},{"r":19,"c":6,"s":4,"v":-0.17},{"r":19,"c":6,"s":5,"v":0.17},{"r":19,"c":6,"s":6,"v":0},{"r":19,"c":6,"s":7,"v":0},{"r":19,"c":6,"s":8,"v":-0.17},{"r":19,"c":6,"s":9,"v":0.17},{"r":19,"c":6,"s":10,"v":0},
{"r":19,"c":7,"s":1,"v":0},{"r":19,"c":7,"s":6,"v":0},{"r":19,"c":7,"s":7,"v":0.39},{"r":19,"c":7,"s":8,"v":0},{"r":19,"c":7,"s":10,"v":0},
{"r":19,"c":8,"s":1,"v":0},{"r":19,"c":8,"s":2,"v":0},{"r":19,"c":8,"s":3,"v":-0.29},{"r":19,"c":8,"s":4,"v":0},{"r":19,"c":8,"s":5,"v":0},{"r":19,"c":8,"s":6,"v":0.28},{"r":19,"c":8,"s":7,"v":0},{"r":19,"c":8,"s":10,"v":0},
{"r":19,"c":9,"s":1,"v":0.07},{"r":19,"c":9,"s":2,"v":0.07},{"r":19,"c":9,"s":3,"v":-0.25},{"r":19,"c":9,"s":4,"v":0.07},{"r":19,"c":9,"s":5,"v":0.07},{"r":19,"c":9,"s":6,"v":-0.25},{"r":19,"c":9,"s":7,"v":0},{"r":19,"c":9,"s":8,"v":0.07},{"r":19,"c":9,"s":9,"v":0.07},{"r":19,"c":9,"s":10,"v":0},
{"r":19,"c":10,"s":1,"v":0},{"r":19,"c":10,"s":9,"v":0},{"r":19,"c":10,"s":10,"v":0.38},
{"r":20,"c":1,"s":1,"v":0.11},{"r":20,"c":1,"s":2,"v":0.1},{"r":20,"c":1,"s":3,"v":0},{"r":20,"c":1,"s":4,"v":0.11},{"r":20,"c":1,"s":5,"v":0.11},{"r":20,"c":1,"s":6,"v":0},{"r":20,"c":1,"s":7,"v":0},{"r":20,"c":1,"s":8,"v":0.11},{"r":20,"c":1,"s":9,"v":0.11},{"r":20,"c":1,"s":10,"v":0},
{"r":20,"c":2,"s":1,"v":0},{"r":20,"c":2,"s":4,"v":0},{"r":20,"c":2,"s":5,"v":-0.28},{"r":20,"c":2,"s":6,"v":0},{"r":20,"c":2,"s":8,"v":0},{"r":20,"c":2,"s":9,"v":0.3},{"r":20,"c":2,"s":10,"v":0},
{"r":20,"c":3,"s":1,"v":0.33},{"r":20,"c":3,"s":2,"v":0},{"r":20,"c":3,"s":4,"v":0},{"r":20,"c":3,"s":5,"v":-0.18},{"r":20,"c":3,"s":6,"v":0},{"r":20,"c":3,"s":8,"v":0},{"r":20,"c":3,"s":9,"v":-0.18},{"r":20,"c":3,"s":10,"v":0},
{"r":20,"c":4,"s":1,"v":0},{"r":20,"c":4,"s":3,"v":0},{"r":20,"c":4,"s":4,"v":-0.29},{"r":20,"c":4,"s":5,"v":0},{"r":20,"c":4,"s":7,"v":0},{"r":20,"c":4,"s":8,"v":0.3},{"r":20,"c":4,"s":9,"v":0},{"r":20,"c":4,"s":10,"v":0},
{"r":20,"c":5,"s":1,"v":0},{"r":20,"c":5,"s":2,"v":0.34},{"r":20,"c":5,"s":3,"v":0},{"r":20,"c":5,"s":4,"v":-0.17},{"r":20,"c":5,"s":5,"v":0},{"r":20,"c":5,"s":7,"v":0},{"r":20,"c":5,"s":8,"v":-0.17},{"r":20,"c":5,"s":9,"v":0},{"r":20,"c":5,"s":10,"v":0},
{"r":20,"c":6,"s":1,"v":0.17},{"r":20,"c":6,"s":2,"v":-0.17},{"r":20,"c":6,"s":3,"v":0},{"r":20,"c":6,"s":4,"v":-0.17},{"r":20,"c":6,"s":5,"v":0.17},{"r":20,"c":6,"s":6,"v":0},{"r":20,"c":6,"s":7,"v":0},{"r":20,"c":6,"s":8,"v":-0.17},{"r":20,"c":6,"s":9,"v":0.17},{"r":20,"c":6,"s":10,"v":0},
{"r":20,"c":7,"s":1,"v":0},{"r":20,"c":7,"s":6,"v":0},{"r":20,"c":7,"s":7,"v":0.39},{"r":20,"c":7,"s":8,"v":0},{"r":20,"c":7,"s":10,"v":0},
{"r":20,"c":8,"s":1,"v":0},{"r":20,"c":8,"s":2,"v":0},{"r":20,"c":8,"s":3,"v":-0.29},{"r":20,"c":8,"s":4,"v":0},{"r":20,"c":8,"s":5,"v":0},{"r":20,"c":8,"s":6,"v":0.28},{"r":20,"c":8,"s":7,"v":0},{"r":20,"c":8,"s":10,"v":0},
{"r":20,"c":9,"s":1,"v":0.07},{"r":20,"c":9,"s":2,"v":0.07},{"r":20,"c":9,"s":3,"v":-0.25},{"r":20,"c":9,"s":4,"v":0.07},{"r":20,"c":9,"s":5,"v":0.07},{"r":20,"c":9,"s":6,"v":-0.25},{"r":20,"c":9,"s":7,"v":0},{"r":20,"c":9,"s":8,"v":0.07},{"r":20,"c":9,"s":9,"v":0.07},{"r":20,"c":9,"s":10,"v":0},
{"r":20,"c":10,"s":1,"v":0},{"r":20,"c":10,"s":9,"v":0},{"r":20,"c":10,"s":10,"v":0.38},
{"r":1,"c":2,"s":1,"v":0},{"r":1,"c":2,"s":10,"v":0},{"r":1,"c":3,"s":1,"v":0},{"r":1,"c":3,"s":10,"v":0},{"r":1,"c":4,"s":1,"v":0},{"r":1,"c":4,"s":10,"v":0},{"r":1,"c":5,"s":1,"v":0},{"r":1,"c":5,"s":10,"v":0},{"r":1,"c":10,"s":1,"v":0},{"r":1,"c":10,"s":10,"v":0},{"r":1,"c":11,"s":1,"v":0},{"r":1,"c":11,"s":10,"v":0},{"r":1,"c":15,"s":1,"v":0},{"r":1,"c":15,"s":10,"v":0},{"r":1,"c":16,"s":1,"v":0},{"r":1,"c":16,"s":10,"v":0},{"r":1,"c":17,"s":1,"v":0},{"r":1,"c":17,"s":10,"v":0},{"r":1,"c":18,"s":1,"v":0},{"r":1,"c":18,"s":10,"v":0},{"r":1,"c":20,"s":1,"v":0},{"r":1,"c":20,"s":10,"v":0},{"r":1,"c":21,"s":1,"v":0},{"r":1,"c":21,"s":10,"v":0},{"r":1,"c":23,"s":1,"v":0},{"r":1,"c":23,"s":10,"v":0},{"r":1,"c":25,"s":1,"v":0},{"r":1,"c":25,"s":10,"v":0},{"r":1,"c":29,"s":1,"v":0},{"r":1,"c":29,"s":10,"v":0},{"r":1,"c":30,"s":1,"v":0},{"r":1,"c":30,"s":10,"v":0},
{"r":2,"c":2,"s":1,"v":0},{"r":2,"c":2,"s":10,"v":0},{"r":2,"c":3,"s":1,"v":0},{"r":2,"c":3,"s":10,"v":0},{"r":2,"c":4,"s":1,"v":0},{"r":2,"c":4,"s":10,"v":0},{"r":2,"c":5,"s":1,"v":0},{"r":2,"c":5,"s":10,"v":0},{"r":2,"c":8,"s":1,"v":0},{"r":2,"c":8,"s":10,"v":0},{"r":2,"c":14,"s":1,"v":0},{"r":2,"c":14,"s":10,"v":0},{"r":2,"c":15,"s":1,"v":0},{"r":2,"c":15,"s":10,"v":0},{"r":2,"c":16,"s":1,"v":0},{"r":2,"c":16,"s":10,"v":0},{"r":2,"c":18,"s":1,"v":0},{"r":2,"c":18,"s":10,"v":0},{"r":2,"c":21,"s":1,"v":0},{"r":2,"c":21,"s":10,"v":0},{"r":2,"c":23,"s":1,"v":0},{"r":2,"c":23,"s":10,"v":0},{"r":2,"c":24,"s":1,"v":0},{"r":2,"c":24,"s":10,"v":0},{"r":2,"c":28,"s":1,"v":0},{"r":2,"c":28,"s":10,"v":0},{"r":2,"c":29,"s":1,"v":0},{"r":2,"c":29,"s":10,"v":0},{"r":2,"c":30,"s":1,"v":0},{"r":2,"c":30,"s":10,"v":0},
{"r":3,"c":2,"s":1,"v":0},{"r":3,"c":2,"s":10,"v":0},{"r":3,"c":3,"s":1,"v":0},{"r":3,"c":3,"s":10,"v":0},{"r":3,"c":5,"s":1,"v":0},{"r":3,"c":5,"s":10,"v":0},{"r":3,"c":8,"s":1,"v":0},{"r":3,"c":8,"s":10,"v":0},{"r":3,"c":11,"s":1,"v":0},{"r":3,"c":11,"s":10,"v":0},{"r":3,"c":12,"s":1,"v":0},{"r":3,"c":12,"s":10,"v":0},{"r":3,"c":13,"s":1,"v":0},{"r":3,"c":13,"s":10,"v":0},{"r":3,"c":14,"s":1,"v":0},{"r":3,"c":14,"s":10,"v":0},{"r":3,"c":16,"s":1,"v":0},{"r":3,"c":16,"s":10,"v":0},{"r":3,"c":17,"s":1,"v":0},{"r":3,"c":17,"s":10,"v":0},{"r":3,"c":19,"s":1,"v":0},{"r":3,"c":19,"s":10,"v":0},{"r":3,"c":20,"s":1,"v":0},{"r":3,"c":20,"s":10,"v":0},{"r":3,"c":24,"s":1,"v":0},{"r":3,"c":24,"s":10,"v":0},{"r":3,"c":27,"s":1,"v":0},{"r":3,"c":27,"s":10,"v":0},{"r":3,"c":29,"s":1,"v":0},{"r":3,"c":29,"s":10,"v":0},{"r":3,"c":30,"s":1,"v":0},{"r":3,"c":30,"s":10,"v":0},
{"r":4,"c":2,"s":1,"v":0},{"r":4,"c":2,"s":10,"v":0},{"r":4,"c":3,"s":1,"v":0},{"r":4,"c":3,"s":10,"v":0},{"r":4,"c":4,"s":1,"v":0},{"r":4,"c":4,"s":10,"v":0},{"r":4,"c":5,"s":1,"v":0},{"r":4,"c":5,"s":10,"v":0},{"r":4,"c":8,"s":1,"v":0},{"r":4,"c":8,"s":10,"v":0},{"r":4,"c":10,"s":1,"v":0},{"r":4,"c":10,"s":10,"v":0},{"r":4,"c":11,"s":1,"v":0},{"r":4,"c":11,"s":10,"v":0},{"r":4,"c":12,"s":1,"v":0},{"r":4,"c":12,"s":10,"v":0},{"r":4,"c":13,"s":1,"v":0},{"r":4,"c":13,"s":10,"v":0},{"r":4,"c":14,"s":1,"v":0},{"r":4,"c":14,"s":10,"v":0},{"r":4,"c":18,"s":1,"v":0},{"r":4,"c":18,"s":10,"v":0},{"r":4,"c":19,"s":1,"v":0},{"r":4,"c":19,"s":10,"v":0},{"r":4,"c":20,"s":1,"v":0},{"r":4,"c":20,"s":10,"v":0},{"r":4,"c":21,"s":1,"v":0},{"r":4,"c":21,"s":10,"v":0},{"r":4,"c":29,"s":1,"v":0},{"r":4,"c":29,"s":10,"v":0},
{"r":5,"c":2,"s":1,"v":0},{"r":5,"c":2,"s":10,"v":0},{"r":5,"c":3,"s":1,"v":0},{"r":5,"c":3,"s":10,"v":0},{"r":5,"c":5,"s":1,"v":0},{"r":5,"c":5,"s":10,"v":0},{"r":5,"c":8,"s":1,"v":0},{"r":5,"c":8,"s":10,"v":0},{"r":5,"c":11,"s":1,"v":0},{"r":5,"c":11,"s":10,"v":0},{"r":5,"c":15,"s":1,"v":0},{"r":5,"c":15,"s":10,"v":0},{"r":5,"c":16,"s":1,"v":0},{"r":5,"c":16,"s":10,"v":0},{"r":5,"c":17,"s":1,"v":0},{"r":5,"c":17,"s":10,"v":0},{"r":5,"c":18,"s":1,"v":0},{"r":5,"c":18,"s":10,"v":0},{"r":5,"c":22,"s":1,"v":0},{"r":5,"c":22,"s":10,"v":0},{"r":5,"c":23,"s":1,"v":0},{"r":5,"c":23,"s":10,"v":0},{"r":5,"c":24,"s":1,"v":0},{"r":5,"c":24,"s":10,"v":0},{"r":5,"c":28,"s":1,"v":0},{"r":5,"c":28,"s":10,"v":0},{"r":5,"c":29,"s":1,"v":0},{"r":5,"c":29,"s":10,"v":0},{"r":5,"c":30,"s":1,"v":0},{"r":5,"c":30,"s":10,"v":0},
{"r":6,"c":2,"s":1,"v":0},{"r":6,"c":2,"s":10,"v":0},{"r":6,"c":3,"s":1,"v":0},{"r":6,"c":3,"s":10,"v":0},{"r":6,"c":4,"s":1,"v":0},{"r":6,"c":4,"s":10,"v":0},{"r":6,"c":5,"s":1,"v":0},{"r":6,"c":5,"s":10,"v":0},{"r":6,"c":10,"s":1,"v":0},{"r":6,"c":10,"s":10,"v":0},{"r":6,"c":11,"s":1,"v":0},{"r":6,"c":11,"s":10,"v":0},{"r":6,"c":12,"s":1,"v":0},{"r":6,"c":12,"s":10,"v":0},{"r":6,"c":13,"s":1,"v":0},{"r":6,"c":13,"s":10,"v":0},{"r":6,"c":14,"s":1,"v":0},{"r":6,"c":14,"s":10,"v":0},{"r":6,"c":15,"s":1,"v":0},{"r":6,"c":15,"s":10,"v":0},{"r":6,"c":17,"s":1,"v":0},{"r":6,"c":17,"s":10,"v":0},{"r":6,"c":18,"s":1,"v":0},{"r":6,"c":18,"s":10,"v":0},{"r":6,"c":19,"s":1,"v":0},{"r":6,"c":19,"s":10,"v":0},{"r":6,"c":20,"s":1,"v":0},{"r":6,"c":20,"s":10,"v":0},{"r":6,"c":24,"s":1,"v":0},{"r":6,"c":24,"s":10,"v":0},{"r":6,"c":25,"s":1,"v":0},{"r":6,"c":25,"s":10,"v":0},{"r":6,"c":30,"s":1,"v":0},{"r":6,"c":30,"s":10,"v":0},
{"r":7,"c":2,"s":1,"v":0},{"r":7,"c":2,"s":10,"v":0},{"r":7,"c":3,"s":1,"v":0},{"r":7,"c":3,"s":10,"v":0},{"r":7,"c":4,"s":1,"v":0},{"r":7,"c":4,"s":10,"v":0},{"r":7,"c":5,"s":1,"v":0},{"r":7,"c":5,"s":10,"v":0},{"r":7,"c":6,"s":1,"v":0},{"r":7,"c":6,"s":10,"v":0},{"r":7,"c":8,"s":1,"v":0},{"r":7,"c":8,"s":10,"v":0},{"r":7,"c":10,"s":1,"v":0},{"r":7,"c":10,"s":10,"v":0},{"r":7,"c":11,"s":1,"v":0},{"r":7,"c":11,"s":10,"v":0},{"r":7,"c":12,"s":1,"v":0},{"r":7,"c":12,"s":10,"v":0},{"r":7,"c":14,"s":1,"v":0},{"r":7,"c":14,"s":10,"v":0},{"r":7,"c":17,"s":1,"v":0},{"r":7,"c":17,"s":10,"v":0},{"r":7,"c":19,"s":1,"v":0},{"r":7,"c":19,"s":10,"v":0},{"r":7,"c":20,"s":1,"v":0},{"r":7,"c":20,"s":10,"v":0},{"r":7,"c":21,"s":1,"v":0},{"r":7,"c":21,"s":10,"v":0},{"r":7,"c":23,"s":1,"v":0},{"r":7,"c":23,"s":10,"v":0},
{"r":8,"c":2,"s":1,"v":0},{"r":8,"c":2,"s":10,"v":0},{"r":8,"c":3,"s":1,"v":0},{"r":8,"c":3,"s":10,"v":0},{"r":8,"c":5,"s":1,"v":0},{"r":8,"c":5,"s":10,"v":0},{"r":8,"c":11,"s":1,"v":0},{"r":8,"c":11,"s":10,"v":0},{"r":8,"c":13,"s":1,"v":0},{"r":8,"c":13,"s":10,"v":0},{"r":8,"c":14,"s":1,"v":0},{"r":8,"c":14,"s":10,"v":0},{"r":8,"c":16,"s":1,"v":0},{"r":8,"c":16,"s":10,"v":0},{"r":8,"c":17,"s":1,"v":0},{"r":8,"c":17,"s":10,"v":0},{"r":8,"c":18,"s":1,"v":0},{"r":8,"c":18,"s":10,"v":0},{"r":8,"c":19,"s":1,"v":0},{"r":8,"c":19,"s":10,"v":0},{"r":8,"c":20,"s":1,"v":0},{"r":8,"c":20,"s":10,"v":0},{"r":8,"c":23,"s":1,"v":0},{"r":8,"c":23,"s":10,"v":0},{"r":8,"c":24,"s":1,"v":0},{"r":8,"c":24,"s":10,"v":0},{"r":8,"c":30,"s":1,"v":0},{"r":8,"c":30,"s":10,"v":0},
{"r":9,"c":2,"s":1,"v":0},{"r":9,"c":2,"s":10,"v":0},{"r":9,"c":3,"s":1,"v":0},{"r":9,"c":3,"s":10,"v":0},{"r":9,"c":4,"s":1,"v":0},{"r":9,"c":4,"s":10,"v":0},{"r":9,"c":8,"s":1,"v":0},{"r":9,"c":8,"s":10,"v":0},{"r":9,"c":11,"s":1,"v":0},{"r":9,"c":11,"s":10,"v":0},{"r":9,"c":12,"s":1,"v":0},{"r":9,"c":12,"s":10,"v":0},{"r":9,"c":13,"s":1,"v":0},{"r":9,"c":13,"s":10,"v":0},{"r":9,"c":14,"s":1,"v":0},{"r":9,"c":14,"s":10,"v":0},{"r":9,"c":15,"s":1,"v":0},{"r":9,"c":15,"s":10,"v":0},{"r":9,"c":16,"s":1,"v":0},{"r":9,"c":16,"s":10,"v":0},{"r":9,"c":18,"s":1,"v":0},{"r":9,"c":18,"s":10,"v":0},{"r":9,"c":19,"s":1,"v":0},{"r":9,"c":19,"s":10,"v":0},{"r":9,"c":20,"s":1,"v":0},{"r":9,"c":20,"s":10,"v":0},{"r":9,"c":22,"s":1,"v":0},{"r":9,"c":22,"s":10,"v":0},{"r":9,"c":24,"s":1,"v":0},{"r":9,"c":24,"s":10,"v":0},{"r":9,"c":25,"s":1,"v":0},{"r":9,"c":25,"s":10,"v":0},{"r":9,"c":30,"s":1,"v":0},{"r":9,"c":30,"s":10,"v":0},
{"r":10,"c":2,"s":1,"v":0},{"r":10,"c":2,"s":10,"v":0},{"r":10,"c":3,"s":1,"v":0},{"r":10,"c":3,"s":10,"v":0},{"r":10,"c":6,"s":1,"v":0},{"r":10,"c":6,"s":10,"v":0},{"r":10,"c":11,"s":1,"v":0},{"r":10,"c":11,"s":10,"v":0},{"r":10,"c":13,"s":1,"v":0},{"r":10,"c":13,"s":10,"v":0},{"r":10,"c":14,"s":1,"v":0},{"r":10,"c":14,"s":10,"v":0},{"r":10,"c":15,"s":1,"v":0},{"r":10,"c":15,"s":10,"v":0},{"r":10,"c":19,"s":1,"v":0},{"r":10,"c":19,"s":10,"v":0},{"r":10,"c":22,"s":1,"v":0},{"r":10,"c":22,"s":10,"v":0},{"r":10,"c":24,"s":1,"v":0},{"r":10,"c":24,"s":10,"v":0},{"r":10,"c":25,"s":1,"v":0},{"r":10,"c":25,"s":10,"v":0},{"r":10,"c":26,"s":1,"v":0},{"r":10,"c":26,"s":10,"v":0},{"r":10,"c":28,"s":1,"v":0},{"r":10,"c":28,"s":10,"v":0},{"r":10,"c":29,"s":1,"v":0},{"r":10,"c":29,"s":10,"v":0},{"r":10,"c":30,"s":1,"v":0},{"r":10,"c":30,"s":10,"v":0},
{"r":11,"c":2,"s":1,"v":0},{"r":11,"c":2,"s":10,"v":0},{"r":11,"c":3,"s":1,"v":0},{"r":11,"c":3,"s":10,"v":0},{"r":11,"c":4,"s":1,"v":0},{"r":11,"c":4,"s":10,"v":0},{"r":11,"c":5,"s":1,"v":0},{"r":11,"c":5,"s":10,"v":0},{"r":11,"c":6,"s":1,"v":0},{"r":11,"c":6,"s":10,"v":0},{"r":11,"c":8,"s":1,"v":0},{"r":11,"c":8,"s":10,"v":0},{"r":11,"c":9,"s":1,"v":0},{"r":11,"c":9,"s":10,"v":0},{"r":11,"c":20,"s":1,"v":0},{"r":11,"c":20,"s":10,"v":0},{"r":11,"c":21,"s":1,"v":0},{"r":11,"c":21,"s":10,"v":0},{"r":11,"c":22,"s":1,"v":0},{"r":11,"c":22,"s":10,"v":0},{"r":11,"c":23,"s":1,"v":0},{"r":11,"c":23,"s":10,"v":0},{"r":11,"c":24,"s":1,"v":0},{"r":11,"c":24,"s":10,"v":0},{"r":11,"c":25,"s":1,"v":0},{"r":11,"c":25,"s":10,"v":0},{"r":11,"c":26,"s":1,"v":0},{"r":11,"c":26,"s":10,"v":0},{"r":11,"c":27,"s":1,"v":0},{"r":11,"c":27,"s":10,"v":0},{"r":11,"c":28,"s":1,"v":0},{"r":11,"c":28,"s":10,"v":0},{"r":11,"c":29,"s":1,"v":0},{"r":11,"c":29,"s":10,"v":0},{"r":11,"c":30,"s":1,"v":0},{"r":11,"c":30,"s":10,"v":0},
{"r":12,"c":2,"s":1,"v":0},{"r":12,"c":2,"s":10,"v":0},{"r":12,"c":3,"s":1,"v":0},{"r":12,"c":3,"s":10,"v":0},{"r":12,"c":4,"s":1,"v":0},{"r":12,"c":4,"s":10,"v":0},{"r":12,"c":5,"s":1,"v":0},{"r":12,"c":5,"s":10,"v":0},{"r":12,"c":6,"s":1,"v":0},{"r":12,"c":6,"s":10,"v":0},{"r":12,"c":8,"s":1,"v":0},{"r":12,"c":8,"s":10,"v":0},{"r":12,"c":9,"s":1,"v":0},{"r":12,"c":9,"s":10,"v":0},{"r":12,"c":20,"s":1,"v":0},{"r":12,"c":20,"s":10,"v":0},{"r":12,"c":21,"s":1,"v":0},{"r":12,"c":21,"s":10,"v":0},{"r":12,"c":22,"s":1,"v":0},{"r":12,"c":22,"s":10,"v":0},{"r":12,"c":23,"s":1,"v":0},{"r":12,"c":23,"s":10,"v":0},{"r":12,"c":24,"s":1,"v":0},{"r":12,"c":24,"s":10,"v":0},{"r":12,"c":25,"s":1,"v":0},{"r":12,"c":25,"s":10,"v":0},{"r":12,"c":26,"s":1,"v":0},{"r":12,"c":26,"s":10,"v":0},{"r":12,"c":27,"s":1,"v":0},{"r":12,"c":27,"s":10,"v":0},{"r":12,"c":28,"s":1,"v":0},{"r":12,"c":28,"s":10,"v":0},{"r":12,"c":29,"s":1,"v":0},{"r":12,"c":29,"s":10,"v":0},{"r":12,"c":30,"s":1,"v":0},{"r":12,"c":30,"s":10,"v":0},
{"r":13,"c":2,"s":1,"v":0},{"r":13,"c":2,"s":10,"v":0},{"r":13,"c":3,"s":1,"v":0},{"r":13,"c":3,"s":10,"v":0},{"r":13,"c":4,"s":1,"v":0},{"r":13,"c":4,"s":10,"v":0},{"r":13,"c":5,"s":1,"v":0},{"r":13,"c":5,"s":10,"v":0},{"r":13,"c":6,"s":1,"v":0},{"r":13,"c":6,"s":10,"v":0},{"r":13,"c":8,"s":1,"v":0},{"r":13,"c":8,"s":10,"v":0},{"r":13,"c":9,"s":1,"v":0},{"r":13,"c":9,"s":10,"v":0},{"r":13,"c":20,"s":1,"v":0},{"r":13,"c":20,"s":10,"v":0},{"r":13,"c":21,"s":1,"v":0},{"r":13,"c":21,"s":10,"v":0},{"r":13,"c":22,"s":1,"v":0},{"r":13,"c":22,"s":10,"v":0},{"r":13,"c":23,"s":1,"v":0},{"r":13,"c":23,"s":10,"v":0},{"r":13,"c":24,"s":1,"v":0},{"r":13,"c":24,"s":10,"v":0},{"r":13,"c":25,"s":1,"v":0},{"r":13,"c":25,"s":10,"v":0},{"r":13,"c":26,"s":1,"v":0},{"r":13,"c":26,"s":10,"v":0},{"r":13,"c":27,"s":1,"v":0},{"r":13,"c":27,"s":10,"v":0},{"r":13,"c":28,"s":1,"v":0},{"r":13,"c":28,"s":10,"v":0},{"r":13,"c":29,"s":1,"v":0},{"r":13,"c":29,"s":10,"v":0},{"r":13,"c":30,"s":1,"v":0},{"r":13,"c":30,"s":10,"v":0},
{"r":14,"c":2,"s":1,"v":0},{"r":14,"c":2,"s":10,"v":0},{"r":14,"c":3,"s":1,"v":0},{"r":14,"c":3,"s":10,"v":0},{"r":14,"c":4,"s":1,"v":0},{"r":14,"c":4,"s":10,"v":0},{"r":14,"c":5,"s":1,"v":0},{"r":14,"c":5,"s":10,"v":0},{"r":14,"c":6,"s":1,"v":0},{"r":14,"c":6,"s":10,"v":0},{"r":14,"c":8,"s":1,"v":0},{"r":14,"c":8,"s":10,"v":0},{"r":14,"c":9,"s":1,"v":0},{"r":14,"c":9,"s":10,"v":0},{"r":14,"c":20,"s":1,"v":0},{"r":14,"c":20,"s":10,"v":0},{"r":14,"c":21,"s":1,"v":0},{"r":14,"c":21,"s":10,"v":0},{"r":14,"c":22,"s":1,"v":0},{"r":14,"c":22,"s":10,"v":0},{"r":14,"c":23,"s":1,"v":0},{"r":14,"c":23,"s":10,"v":0},{"r":14,"c":24,"s":1,"v":0},{"r":14,"c":24,"s":10,"v":0},{"r":14,"c":25,"s":1,"v":0},{"r":14,"c":25,"s":10,"v":0},{"r":14,"c":26,"s":1,"v":0},{"r":14,"c":26,"s":10,"v":0},{"r":14,"c":27,"s":1,"v":0},{"r":14,"c":27,"s":10,"v":0},{"r":14,"c":28,"s":1,"v":0},{"r":14,"c":28,"s":10,"v":0},{"r":14,"c":29,"s":1,"v":0},{"r":14,"c":29,"s":10,"v":0},{"r":14,"c":30,"s":1,"v":0},{"r":14,"c":30,"s":10,"v":0},
{"r":15,"c":11,"s":1,"v":0},{"r":15,"c":11,"s":10,"v":0},{"r":15,"c":12,"s":1,"v":0},{"r":15,"c":12,"s":10,"v":0},{"r":15,"c":13,"s":1,"v":0},{"r":15,"c":13,"s":10,"v":0},{"r":15,"c":14,"s":1,"v":0},{"r":15,"c":14,"s":10,"v":0},{"r":15,"c":15,"s":1,"v":0},{"r":15,"c":15,"s":10,"v":0},{"r":15,"c":16,"s":1,"v":0},{"r":15,"c":16,"s":10,"v":0},{"r":15,"c":17,"s":1,"v":0},{"r":15,"c":17,"s":10,"v":0},{"r":15,"c":18,"s":1,"v":0},{"r":15,"c":18,"s":10,"v":0},{"r":15,"c":19,"s":1,"v":0},{"r":15,"c":19,"s":10,"v":0},{"r":15,"c":20,"s":1,"v":0},{"r":15,"c":20,"s":10,"v":0},{"r":15,"c":21,"s":1,"v":0},{"r":15,"c":21,"s":10,"v":0},{"r":15,"c":22,"s":1,"v":0},{"r":15,"c":22,"s":10,"v":0},{"r":15,"c":23,"s":1,"v":0},{"r":15,"c":23,"s":10,"v":0},{"r":15,"c":24,"s":1,"v":0},{"r":15,"c":24,"s":10,"v":0},{"r":15,"c":25,"s":1,"v":0},{"r":15,"c":25,"s":10,"v":0},{"r":15,"c":26,"s":1,"v":0},{"r":15,"c":26,"s":10,"v":0},{"r":15,"c":27,"s":1,"v":0},{"r":15,"c":27,"s":10,"v":0},{"r":15,"c":28,"s":1,"v":0},{"r":15,"c":28,"s":10,"v":0},{"r":15,"c":29,"s":1,"v":0},{"r":15,"c":29,"s":10,"v":0},{"r":15,"c":30,"s":1,"v":0},{"r":15,"c":30,"s":10,"v":0},
{"r":16,"c":11,"s":1,"v":0},{"r":16,"c":11,"s":10,"v":0},{"r":16,"c":12,"s":1,"v":0},{"r":16,"c":12,"s":10,"v":0},{"r":16,"c":13,"s":1,"v":0},{"r":16,"c":13,"s":10,"v":0},{"r":16,"c":14,"s":1,"v":0},{"r":16,"c":14,"s":10,"v":0},{"r":16,"c":15,"s":1,"v":0},{"r":16,"c":15,"s":10,"v":0},{"r":16,"c":16,"s":1,"v":0},{"r":16,"c":16,"s":10,"v":0},{"r":16,"c":17,"s":1,"v":0},{"r":16,"c":17,"s":10,"v":0},{"r":16,"c":18,"s":1,"v":0},{"r":16,"c":18,"s":10,"v":0},{"r":16,"c":19,"s":1,"v":0},{"r":16,"c":19,"s":10,"v":0},{"r":16,"c":20,"s":1,"v":0},{"r":16,"c":20,"s":10,"v":0},{"r":16,"c":21,"s":1,"v":0},{"r":16,"c":21,"s":10,"v":0},{"r":16,"c":22,"s":1,"v":0},{"r":16,"c":22,"s":10,"v":0},{"r":16,"c":23,"s":1,"v":0},{"r":16,"c":23,"s":10,"v":0},{"r":16,"c":24,"s":1,"v":0},{"r":16,"c":24,"s":10,"v":0},{"r":16,"c":25,"s":1,"v":0},{"r":16,"c":25,"s":10,"v":0},{"r":16,"c":26,"s":1,"v":0},{"r":16,"c":26,"s":10,"v":0},{"r":16,"c":27,"s":1,"v":0},{"r":16,"c":27,"s":10,"v":0},{"r":16,"c":28,"s":1,"v":0},{"r":16,"c":28,"s":10,"v":0},{"r":16,"c":29,"s":1,"v":0},{"r":16,"c":29,"s":10,"v":0},{"r":16,"c":30,"s":1,"v":0},{"r":16,"c":30,"s":10,"v":0},
{"r":17,"c":11,"s":1,"v":0},{"r":17,"c":11,"s":10,"v":0},{"r":17,"c":12,"s":1,"v":0},{"r":17,"c":12,"s":10,"v":0},{"r":17,"c":13,"s":1,"v":0},{"r":17,"c":13,"s":10,"v":0},{"r":17,"c":14,"s":1,"v":0},{"r":17,"c":14,"s":10,"v":0},{"r":17,"c":15,"s":1,"v":0},{"r":17,"c":15,"s":10,"v":0},{"r":17,"c":16,"s":1,"v":0},{"r":17,"c":16,"s":10,"v":0},{"r":17,"c":17,"s":1,"v":0},{"r":17,"c":17,"s":10,"v":0},{"r":17,"c":18,"s":1,"v":0},{"r":17,"c":18,"s":10,"v":0},{"r":17,"c":19,"s":1,"v":0},{"r":17,"c":19,"s":10,"v":0},{"r":17,"c":20,"s":1,"v":0},{"r":17,"c":20,"s":10,"v":0},{"r":17,"c":21,"s":1,"v":0},{"r":17,"c":21,"s":10,"v":0},{"r":17,"c":22,"s":1,"v":0},{"r":17,"c":22,"s":10,"v":0},{"r":17,"c":23,"s":1,"v":0},{"r":17,"c":23,"s":10,"v":0},{"r":17,"c":24,"s":1,"v":0},{"r":17,"c":24,"s":10,"v":0},{"r":17,"c":25,"s":1,"v":0},{"r":17,"c":25,"s":10,"v":0},{"r":17,"c":26,"s":1,"v":0},{"r":17,"c":26,"s":10,"v":0},{"r":17,"c":27,"s":1,"v":0},{"r":17,"c":27,"s":10,"v":0},{"r":17,"c":28,"s":1,"v":0},{"r":17,"c":28,"s":10,"v":0},{"r":17,"c":29,"s":1,"v":0},{"r":17,"c":29,"s":10,"v":0},{"r":17,"c":30,"s":1,"v":0},{"r":17,"c":30,"s":10,"v":0},
{"r":18,"c":11,"s":1,"v":0},{"r":18,"c":11,"s":10,"v":0},{"r":18,"c":12,"s":1,"v":0},{"r":18,"c":12,"s":10,"v":0},{"r":18,"c":13,"s":1,"v":0},{"r":18,"c":13,"s":10,"v":0},{"r":18,"c":14,"s":1,"v":0},{"r":18,"c":14,"s":10,"v":0},{"r":18,"c":15,"s":1,"v":0},{"r":18,"c":15,"s":10,"v":0},{"r":18,"c":16,"s":1,"v":0},{"r":18,"c":16,"s":10,"v":0},{"r":18,"c":17,"s":1,"v":0},{"r":18,"c":17,"s":10,"v":0},{"r":18,"c":18,"s":1,"v":0},{"r":18,"c":18,"s":10,"v":0},{"r":18,"c":19,"s":1,"v":0},{"r":18,"c":19,"s":10,"v":0},{"r":18,"c":20,"s":1,"v":0},{"r":18,"c":20,"s":10,"v":0},{"r":18,"c":21,"s":1,"v":0},{"r":18,"c":21,"s":10,"v":0},{"r":18,"c":22,"s":1,"v":0},{"r":18,"c":22,"s":10,"v":0},{"r":18,"c":23,"s":1,"v":0},{"r":18,"c":23,"s":10,"v":0},{"r":18,"c":24,"s":1,"v":0},{"r":18,"c":24,"s":10,"v":0},{"r":18,"c":25,"s":1,"v":0},{"r":18,"c":25,"s":10,"v":0},{"r":18,"c":26,"s":1,"v":0},{"r":18,"c":26,"s":10,"v":0},{"r":18,"c":27,"s":1,"v":0},{"r":18,"c":27,"s":10,"v":0},{"r":18,"c":28,"s":1,"v":0},{"r":18,"c":28,"s":10,"v":0},{"r":18,"c":29,"s":1,"v":0},{"r":18,"c":29,"s":10,"v":0},{"r":18,"c":30,"s":1,"v":0},{"r":18,"c":30,"s":10,"v":0},
{"r":19,"c":11,"s":1,"v":0},{"r":19,"c":11,"s":10,"v":0},{"r":19,"c":12,"s":1,"v":0},{"r":19,"c":12,"s":10,"v":0},{"r":19,"c":13,"s":1,"v":0},{"r":19,"c":13,"s":10,"v":0},{"r":19,"c":14,"s":1,"v":0},{"r":19,"c":14,"s":10,"v":0},{"r":19,"c":15,"s":1,"v":0},{"r":19,"c":15,"s":10,"v":0},{"r":19,"c":16,"s":1,"v":0},{"r":19,"c":16,"s":10,"v":0},{"r":19,"c":17,"s":1,"v":0},{"r":19,"c":17,"s":10,"v":0},{"r":19,"c":18,"s":1,"v":0},{"r":19,"c":18,"s":10,"v":0},{"r":19,"c":19,"s":1,"v":0},{"r":19,"c":19,"s":10,"v":0},{"r":19,"c":20,"s":1,"v":0},{"r":19,"c":20,"s":10,"v":0},{"r":19,"c":21,"s":1,"v":0},{"r":19,"c":21,"s":10,"v":0},{"r":19,"c":22,"s":1,"v":0},{"r":19,"c":22,"s":10,"v":0},{"r":19,"c":23,"s":1,"v":0},{"r":19,"c":23,"s":10,"v":0},{"r":19,"c":24,"s":1,"v":0},{"r":19,"c":24,"s":10,"v":0},{"r":19,"c":25,"s":1,"v":0},{"r":19,"c":25,"s":10,"v":0},{"r":19,"c":26,"s":1,"v":0},{"r":19,"c":26,"s":10,"v":0},{"r":19,"c":27,"s":1,"v":0},{"r":19,"c":27,"s":10,"v":0},{"r":19,"c":28,"s":1,"v":0},{"r":19,"c":28,"s":10,"v":0},{"r":19,"c":29,"s":1,"v":0},{"r":19,"c":29,"s":10,"v":0},{"r":19,"c":30,"s":1,"v":0},{"r":19,"c":30,"s":10,"v":0},
{"r":20,"c":11,"s":1,"v":0},{"r":20,"c":11,"s":10,"v":0},{"r":20,"c":12,"s":1,"v":0},{"r":20,"c":12,"s":10,"v":0},{"r":20,"c":13,"s":1,"v":0},{"r":20,"c":13,"s":10,"v":0},{"r":20,"c":14,"s":1,"v":0},{"r":20,"c":14,"s":10,"v":0},{"r":20,"c":15,"s":1,"v":0},{"r":20,"c":15,"s":10,"v":0},{"r":20,"c":16,"s":1,"v":0},{"r":20,"c":16,"s":10,"v":0},{"r":20,"c":17,"s":1,"v":0},{"r":20,"c":17,"s":10,"v":0},{"r":20,"c":18,"s":1,"v":0},{"r":20,"c":18,"s":10,"v":0},{"r":20,"c":19,"s":1,"v":0},{"r":20,"c":19,"s":10,"v":0},{"r":20,"c":20,"s":1,"v":0},{"r":20,"c":20,"s":10,"v":0},{"r":20,"c":21,"s":1,"v":0},{"r":20,"c":21,"s":10,"v":0},{"r":20,"c":22,"s":1,"v":0},{"r":20,"c":22,"s":10,"v":0},{"r":20,"c":23,"s":1,"v":0},{"r":20,"c":23,"s":10,"v":0},{"r":20,"c":24,"s":1,"v":0},{"r":20,"c":24,"s":10,"v":0},{"r":20,"c":25,"s":1,"v":0},{"r":20,"c":25,"s":10,"v":0},{"r":20,"c":26,"s":1,"v":0},{"r":20,"c":26,"s":10,"v":0},{"r":20,"c":27,"s":1,"v":0},{"r":20,"c":27,"s":10,"v":0},{"r":20,"c":28,"s":1,"v":0},{"r":20,"c":28,"s":10,"v":0},{"r":20,"c":29,"s":1,"v":0},{"r":20,"c":29,"s":10,"v":0},{"r":20,"c":30,"s":1,"v":0},{"r":20,"c":30,"s":10,"v":0}
]},
 "facet":{"row":{"field":"r","type":"ordinal","header":{"labels":false,"title":null}},
  "column":{"field":"c","type":"ordinal","header":{"labels":false,"title":"state","titleOrient":"bottom","titleFontSize":26,"titleFontWeight":"normal","titleColor":"#000000","titleFont":"Liberation Sans","titlePadding":6}}},
 "spacing":{"row":15,"column":15},"bounds":"flush",
 "spec":{"width":108,"height":168,"view":{"fill":"#EBEBEB","stroke":null},
  "mark":{"type":"line","color":"#000000","strokeWidth":2.7},
  "encoding":{
   "x":{"field":"s","type":"quantitative","scale":{"domain":[0.55,10.45],"nice":false,"zero":false},
    "axis":{"title":null,"values":[1.25,2.5,3.75,5,6.25,7.5,8.75,10],"domain":false,"grid":true,"gridColor":"#FFFFFF",
     "gridWidth":{"condition":{"test":"datum.value % 2.5 === 0","value":2.2},"value":1.1},
     "tickColor":{"condition":{"test":"datum.value % 2.5 === 0","value":"#333333"},"value":"transparent"},
     "tickSize":7.5,"tickWidth":2.2,
     "labelExpr":"datum.value % 2.5 === 0 ? format(datum.value, '.1f') : ''",
     "labelOverlap":false,"labelFlush":false,"labelPadding":8,"labelFontSize":21,"labelColor":"#4D4D4D","labelFont":"Liberation Sans"}},
   "y":{"field":"v","type":"quantitative","scale":{"domain":[-0.862,0.876],"nice":false,"zero":false},
    "axis":{"title":null,"values":[-0.75,-0.5,-0.25,0,0.25,0.5,0.75],"domain":false,"grid":true,"gridColor":"#FFFFFF",
     "gridWidth":{"condition":{"test":"datum.value % 0.5 === 0","value":2.2},"value":1.1},
     "tickColor":{"condition":{"test":"datum.value % 0.5 === 0","value":"#333333"},"value":"transparent"},
     "tickSize":7.5,"tickWidth":2.2,
     "labelExpr":"datum.value % 0.5 === 0 ? (datum.value < 0 ? '-' : '') + format(abs(datum.value), '.1f') : ''",
     "labelOverlap":false,"labelFlush":false,"labelPadding":6,"labelFontSize":21,"labelColor":"#4D4D4D","labelFont":"Liberation Sans"}}}}},
{"data":{"values":[{"r":1},{"r":2},{"r":3},{"r":4},{"r":5},{"r":6},{"r":7},{"r":8},{"r":9},{"r":10},{"r":11},{"r":12},{"r":13},{"r":14},{"r":15},{"r":16},{"r":17},{"r":18},{"r":19},{"r":20}]},
 "facet":{"row":{"field":"r","type":"ordinal","header":{"labels":false,"title":null}}},
 "spacing":15,"bounds":"flush",
 "spec":{"width":45,"height":168,"view":{"fill":"#D9D9D9","stroke":null},
  "mark":{"type":"text","fontSize":21,"color":"#1A1A1A","font":"Liberation Sans","angle":90,"baseline":"middle","align":"center"},
  "encoding":{"text":{"field":"r","type":"nominal"}}}}
]}
]}
]
}
